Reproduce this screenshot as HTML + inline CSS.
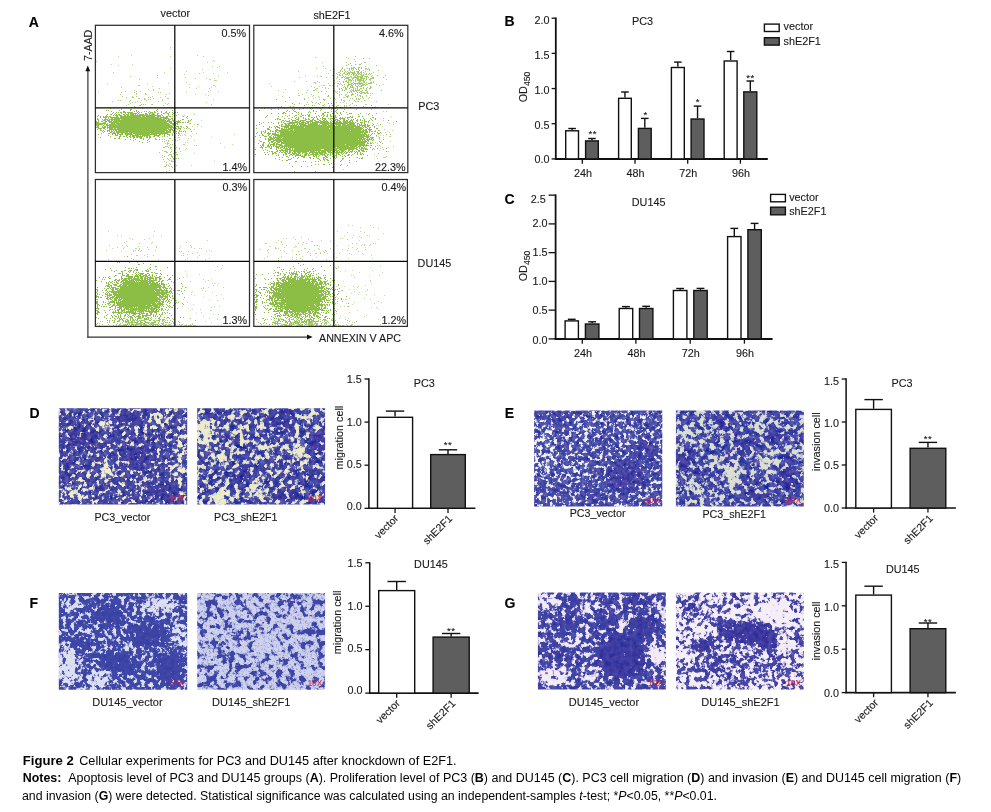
<!DOCTYPE html>
<html><head><meta charset="utf-8"><title>Figure 2</title>
<style>
html,body{margin:0;padding:0;background:#fff;}
body{width:991px;height:812px;overflow:hidden;font-family:"Liberation Sans", sans-serif;}
svg{display:block;font-family:"Liberation Sans", sans-serif;}
</style></head><body>
<svg width="991" height="812" viewBox="0 0 991 812">
<defs>
<filter id="f_d1" filterUnits="userSpaceOnUse" x="46.8" y="396.3" width="152.4" height="120.2" color-interpolation-filters="sRGB">
<feGaussianBlur in="SourceGraphic" stdDeviation="3.2" result="m"/>
<feTurbulence type="fractalNoise" baseFrequency="0.23" numOctaves="3" seed="4"/>
<feColorMatrix type="matrix" values="1 0 0 0 0 0 1 0 0 0 0 0 1 0 0 0 0 0 0 1" result="n"/>
<feComposite in="n" in2="m" operator="arithmetic" k1="0" k2="1" k3="0.62" k4="-0.31" result="s"/>
<feColorMatrix in="s" type="matrix" values="0 0 0 0 0.557 0 0 0 0 0.498 0 0 0 0 0.753 4.50 0 0 0 -1.319" result="mid"/>
<feColorMatrix in="s" type="matrix" values="0 -0.34 0.3 0 0.271 0 -0.34 0.075 0 0.399 0 -0.187 0.060 0 0.699 10.0 0 0 0 -3.680" result="fg"/>
<feFlood flood-color="#f1eecb" result="bg"/>
<feMerge result="mm"><feMergeNode in="bg"/><feMergeNode in="mid"/><feMergeNode in="fg"/></feMerge>
<feGaussianBlur in="mm" stdDeviation="0.38"/>
</filter>
<clipPath id="c_d1"><rect x="58.8" y="408.3" width="128.4" height="96.2"/></clipPath>
<filter id="f_d2" filterUnits="userSpaceOnUse" x="185.2" y="396.3" width="151.9" height="120.2" color-interpolation-filters="sRGB">
<feGaussianBlur in="SourceGraphic" stdDeviation="3.2" result="m"/>
<feTurbulence type="fractalNoise" baseFrequency="0.2" numOctaves="3" seed="9"/>
<feColorMatrix type="matrix" values="1 0 0 0 0 0 1 0 0 0 0 0 1 0 0 0 0 0 0 1" result="n"/>
<feComposite in="n" in2="m" operator="arithmetic" k1="0" k2="1" k3="0.62" k4="-0.31" result="s"/>
<feColorMatrix in="s" type="matrix" values="0 0 0 0 0.604 0 0 0 0 0.596 0 0 0 0 0.800 4.50 0 0 0 -1.485" result="mid"/>
<feColorMatrix in="s" type="matrix" values="0 -0.34 0.3 0 0.263 0 -0.34 0.075 0 0.395 0 -0.187 0.060 0 0.707 10.0 0 0 0 -4.050" result="fg"/>
<feFlood flood-color="#eceac7" result="bg"/>
<feMerge result="mm"><feMergeNode in="bg"/><feMergeNode in="mid"/><feMergeNode in="fg"/></feMerge>
<feGaussianBlur in="mm" stdDeviation="0.38"/>
</filter>
<clipPath id="c_d2"><rect x="197.2" y="408.3" width="127.9" height="96.2"/></clipPath>
<filter id="f_e1" filterUnits="userSpaceOnUse" x="522.1" y="398.4" width="152.2" height="120.1" color-interpolation-filters="sRGB">
<feGaussianBlur in="SourceGraphic" stdDeviation="3.2" result="m"/>
<feTurbulence type="fractalNoise" baseFrequency="0.26" numOctaves="3" seed="14"/>
<feColorMatrix type="matrix" values="1 0 0 0 0 0 1 0 0 0 0 0 1 0 0 0 0 0 0 1" result="n"/>
<feComposite in="n" in2="m" operator="arithmetic" k1="0" k2="1" k3="0.62" k4="-0.31" result="s"/>
<feColorMatrix in="s" type="matrix" values="0 0 0 0 0.549 0 0 0 0 0.518 0 0 0 0 0.769 4.50 0 0 0 -1.305" result="mid"/>
<feColorMatrix in="s" type="matrix" values="0 -0.34 0.3 0 0.291 0 -0.34 0.075 0 0.427 0 -0.187 0.060 0 0.722 10.0 0 0 0 -3.650" result="fg"/>
<feFlood flood-color="#f6f4ee" result="bg"/>
<feMerge result="mm"><feMergeNode in="bg"/><feMergeNode in="mid"/><feMergeNode in="fg"/></feMerge>
<feGaussianBlur in="mm" stdDeviation="0.38"/>
</filter>
<clipPath id="c_e1"><rect x="534.1" y="410.4" width="128.2" height="96.1"/></clipPath>
<filter id="f_e2" filterUnits="userSpaceOnUse" x="663.9" y="398.4" width="151.9" height="120.1" color-interpolation-filters="sRGB">
<feGaussianBlur in="SourceGraphic" stdDeviation="3.2" result="m"/>
<feTurbulence type="fractalNoise" baseFrequency="0.2" numOctaves="3" seed="21"/>
<feColorMatrix type="matrix" values="1 0 0 0 0 0 1 0 0 0 0 0 1 0 0 0 0 0 0 1" result="n"/>
<feComposite in="n" in2="m" operator="arithmetic" k1="0" k2="1" k3="0.62" k4="-0.31" result="s"/>
<feColorMatrix in="s" type="matrix" values="0 0 0 0 0.561 0 0 0 0 0.573 0 0 0 0 0.769 4.50 0 0 0 -1.530" result="mid"/>
<feColorMatrix in="s" type="matrix" values="0 -0.34 0.3 0 0.263 0 -0.34 0.075 0 0.395 0 -0.187 0.060 0 0.711 10.0 0 0 0 -4.150" result="fg"/>
<feFlood flood-color="#dcdfd0" result="bg"/>
<feMerge result="mm"><feMergeNode in="bg"/><feMergeNode in="mid"/><feMergeNode in="fg"/></feMerge>
<feGaussianBlur in="mm" stdDeviation="0.38"/>
</filter>
<clipPath id="c_e2"><rect x="675.9" y="410.4" width="127.9" height="96.1"/></clipPath>
<filter id="f_f1" filterUnits="userSpaceOnUse" x="46.8" y="581.1" width="152.4" height="120.7" color-interpolation-filters="sRGB">
<feGaussianBlur in="SourceGraphic" stdDeviation="3.2" result="m"/>
<feTurbulence type="fractalNoise" baseFrequency="0.24" numOctaves="3" seed="31"/>
<feColorMatrix type="matrix" values="1 0 0 0 0 0 1 0 0 0 0 0 1 0 0 0 0 0 0 1" result="n"/>
<feComposite in="n" in2="m" operator="arithmetic" k1="0" k2="1" k3="0.9" k4="-0.45" result="s"/>
<feColorMatrix in="s" type="matrix" values="0 0 0 0 0.553 0 0 0 0 0.576 0 0 0 0 0.812 4.50 0 0 0 -1.417" result="mid"/>
<feColorMatrix in="s" type="matrix" values="0 -0.08 0.05 0 0.258 0 -0.08 0.013 0 0.312 0 -0.044 0.010 0 0.672 10.0 0 0 0 -3.900" result="fg"/>
<feFlood flood-color="#dde0f1" result="bg"/>
<feMerge result="mm"><feMergeNode in="bg"/><feMergeNode in="mid"/><feMergeNode in="fg"/></feMerge>
<feGaussianBlur in="mm" stdDeviation="0.38"/>
</filter>
<clipPath id="c_f1"><rect x="58.8" y="593.1" width="128.4" height="96.7"/></clipPath>
<filter id="f_f2" filterUnits="userSpaceOnUse" x="185.2" y="581.1" width="151.9" height="120.7" color-interpolation-filters="sRGB">
<feGaussianBlur in="SourceGraphic" stdDeviation="3.2" result="m"/>
<feTurbulence type="fractalNoise" baseFrequency="0.17" numOctaves="3" seed="37"/>
<feColorMatrix type="matrix" values="1 0 0 0 0 0 1 0 0 0 0 0 1 0 0 0 0 0 0 1" result="n"/>
<feComposite in="n" in2="m" operator="arithmetic" k1="0" k2="1" k3="0.7" k4="-0.35" result="s"/>
<feColorMatrix in="s" type="matrix" values="0 0 0 0 0.604 0 0 0 0 0.627 0 0 0 0 0.839 4.50 0 0 0 -2.025" result="mid"/>
<feColorMatrix in="s" type="matrix" values="0 -0.06 0.04 0 0.249 0 -0.06 0.010 0 0.296 0 -0.033 0.008 0 0.667 10.0 0 0 0 -5.250" result="fg"/>
<feFlood flood-color="#cdd1ec" result="bg"/>
<feTurbulence type="fractalNoise" baseFrequency="0.55" numOctaves="2" seed="137"/>
<feColorMatrix type="matrix" values="0 0 0 0 0.639 0 0 0 0 0.663 0 0 0 0 0.855 9 0 0 0 -5.175" result="sp"/>
<feMerge result="mm"><feMergeNode in="bg"/><feMergeNode in="sp"/><feMergeNode in="mid"/><feMergeNode in="fg"/></feMerge>
<feGaussianBlur in="mm" stdDeviation="0.38"/>
</filter>
<clipPath id="c_f2"><rect x="197.2" y="593.1" width="127.9" height="96.7"/></clipPath>
<filter id="f_g1" filterUnits="userSpaceOnUse" x="525.9" y="580.4" width="151.9" height="121.1" color-interpolation-filters="sRGB">
<feGaussianBlur in="SourceGraphic" stdDeviation="3.2" result="m"/>
<feTurbulence type="fractalNoise" baseFrequency="0.21" numOctaves="3" seed="43"/>
<feColorMatrix type="matrix" values="1 0 0 0 0 0 1 0 0 0 0 0 1 0 0 0 0 0 0 1" result="n"/>
<feComposite in="n" in2="m" operator="arithmetic" k1="0" k2="1" k3="0.8" k4="-0.4" result="s"/>
<feColorMatrix in="s" type="matrix" values="0 0 0 0 0.553 0 0 0 0 0.502 0 0 0 0 0.761 4.50 0 0 0 -1.427" result="mid"/>
<feColorMatrix in="s" type="matrix" values="0 -0.2 0.15 0 0.272 0 -0.2 0.037 0 0.348 0 -0.110 0.030 0 0.687 10.0 0 0 0 -3.920" result="fg"/>
<feFlood flood-color="#f2eaf4" result="bg"/>
<feMerge result="mm"><feMergeNode in="bg"/><feMergeNode in="mid"/><feMergeNode in="fg"/></feMerge>
<feGaussianBlur in="mm" stdDeviation="0.38"/>
</filter>
<clipPath id="c_g1"><rect x="537.9" y="592.4" width="127.9" height="97.1"/></clipPath>
<filter id="f_g2" filterUnits="userSpaceOnUse" x="663.9" y="580.4" width="151.9" height="121.1" color-interpolation-filters="sRGB">
<feGaussianBlur in="SourceGraphic" stdDeviation="3.2" result="m"/>
<feTurbulence type="fractalNoise" baseFrequency="0.22" numOctaves="3" seed="49"/>
<feColorMatrix type="matrix" values="1 0 0 0 0 0 1 0 0 0 0 0 1 0 0 0 0 0 0 1" result="n"/>
<feComposite in="n" in2="m" operator="arithmetic" k1="0" k2="1" k3="1.0" k4="-0.5" result="s"/>
<feColorMatrix in="s" type="matrix" values="0 0 0 0 0.604 0 0 0 0 0.565 0 0 0 0 0.800 4.50 0 0 0 -2.002" result="mid"/>
<feColorMatrix in="s" type="matrix" values="0 -0.2 0.15 0 0.284 0 -0.2 0.037 0 0.356 0 -0.110 0.030 0 0.691 10.0 0 0 0 -5.200" result="fg"/>
<feFlood flood-color="#f5eef6" result="bg"/>
<feMerge result="mm"><feMergeNode in="bg"/><feMergeNode in="mid"/><feMergeNode in="fg"/></feMerge>
<feGaussianBlur in="mm" stdDeviation="0.38"/>
</filter>
<clipPath id="c_g2"><rect x="675.9" y="592.4" width="127.9" height="97.1"/></clipPath>
</defs>
<rect width="991" height="812" fill="#ffffff"/>
<g opacity="0.999">
<text x="28.8" y="27.2" font-size="14" text-anchor="start" font-weight="bold" fill="#000" stroke="#000" stroke-width="0.12" >A</text>
<text x="175.3" y="17.3" font-size="10.8" text-anchor="middle" font-weight="normal" fill="#1c191a" stroke="#1c191a" stroke-width="0.12" >vector</text>
<text x="332" y="19.0" font-size="10.8" text-anchor="middle" font-weight="normal" fill="#1c191a" stroke="#1c191a" stroke-width="0.12" >shE2F1</text>
<text x="418.2" y="110.2" font-size="10.8" text-anchor="start" font-weight="normal" fill="#1c191a" stroke="#1c191a" stroke-width="0.12" >PC3</text>
<text x="417.6" y="267.2" font-size="10.8" text-anchor="start" font-weight="normal" fill="#1c191a" stroke="#1c191a" stroke-width="0.12" >DU145</text>
<text x="319" y="342.2" font-size="10.8" text-anchor="start" font-weight="normal" fill="#1c191a" stroke="#1c191a" stroke-width="0.12" textLength="82" lengthAdjust="spacingAndGlyphs">ANNEXIN V APC</text>
<text transform="translate(91.5,61.0) rotate(-90)" font-size="10.6" fill="#1c191a" stroke="#1c191a" stroke-width="0.12">7-AAD</text>
<line x1="87.9" y1="70" x2="87.9" y2="337.7" stroke="#333" stroke-width="1.2"/>
<line x1="87.3" y1="337.15" x2="309" y2="337.15" stroke="#333" stroke-width="1.2"/>
<path d="M87.8 65.6 L85.4 71.2 L90.2 71.2 Z" fill="#111"/>
<path d="M312.6 337 L307 334.6 L307 339.4 Z" fill="#111"/>
<clipPath id="cp0"><rect x="95.4" y="25.3" width="154.1" height="147.29999999999998"/></clipPath><g clip-path="url(#cp0)">
<path d="M163.3 124.7 L161.4 125.6 L165.2 127.0 L158.7 127.2 L160.6 128.7 L157.0 129.2 L152.5 129.1 L151.8 130.6 L146.9 129.7 L144.5 130.9 L140.9 129.9 L137.7 129.9 L133.7 130.4 L128.5 130.9 L128.9 128.7 L125.8 128.3 L120.5 128.1 L115.7 127.4 L117.4 126.0 L118.3 124.9 L112.4 123.7 L121.6 123.0 L115.0 121.4 L121.5 121.1 L124.4 120.5 L126.7 119.9 L128.1 119.0 L128.9 117.2 L134.6 118.5 L137.3 117.3 L141.1 117.1 L144.7 118.0 L148.7 117.9 L150.1 119.5 L152.7 120.0 L156.1 120.4 L161.9 120.4 L161.8 121.7 L162.2 122.8 L165.5 123.7Z" fill="#8cbe45"/>
<path d="M134 106h1M135 107h1M110 108h1M142 108h1M121 109h1M130 109h2M157 109h1M106 110h1M108 110h1M119 110h1M130 110h1M136 110h1M156 110h1M172 110h1M111 111h1M123 111h2M134 111h1M136 111h1M138 111h1M144 111h1M146 111h1M149 111h1M154 111h1M157 111h1M161 111h1M166 111h1M113 112h1M116 112h1M118 112h1M120 112h2M123 112h3M127 112h6M137 112h1M139 112h1M141 112h1M148 112h1M150 112h3M154 112h2M161 112h1M165 112h2M169 112h1M172 112h1M175 112h1M177 112h1M112 113h1M115 113h1M121 113h1M125 113h1M128 113h1M130 113h7M138 113h1M145 113h2M149 113h2M152 113h2M157 113h2M163 113h2M167 113h2M173 113h1M107 114h1M110 114h2M114 114h1M116 114h1M118 114h2M123 114h2M126 114h3M130 114h4M135 114h1M137 114h1M139 114h5M145 114h3M149 114h1M151 114h4M157 114h1M161 114h1M168 114h1M172 114h1M98 115h1M106 115h1M113 115h1M115 115h3M119 115h3M124 115h2M127 115h2M130 115h31M162 115h1M168 115h1M174 115h1M176 115h1M97 116h1M100 116h1M103 116h1M105 116h3M109 116h2M116 116h2M120 116h21M142 116h3M146 116h9M157 116h4M163 116h1M166 116h2M169 116h2M172 116h1M183 116h1M187 116h1M100 117h1M103 117h4M108 117h1M110 117h9M120 117h39M160 117h8M186 117h1M97 118h1M105 118h1M108 118h1M111 118h2M114 118h48M163 118h6M171 118h2M98 119h1M102 119h1M104 119h4M109 119h11M121 119h44M166 119h1M168 119h3M172 119h1M174 119h1M182 119h2M191 119h1M98 120h1M103 120h3M107 120h3M111 120h2M114 120h52M167 120h3M172 120h2M178 120h1M180 120h1M188 120h1M190 120h1M98 121h1M101 121h2M105 121h2M108 121h4M113 121h59M173 121h1M176 121h4M188 121h1M97 122h1M103 122h3M109 122h10M120 122h47M169 122h3M174 122h2M177 122h4M182 122h2M185 122h1M187 122h1M98 123h8M107 123h1M111 123h4M116 123h53M170 123h8M190 123h1M98 124h1M100 124h3M104 124h1M106 124h2M109 124h7M117 124h2M120 124h50M172 124h4M177 124h1M197 124h1M103 125h1M106 125h66M173 125h3M102 126h1M104 126h2M107 126h1M109 126h64M174 126h1M176 126h3M180 126h2M186 126h1M98 127h1M102 127h4M107 127h67M175 127h1M178 127h1M187 127h1M98 128h4M103 128h2M107 128h1M109 128h4M114 128h2M117 128h52M170 128h2M173 128h1M175 128h2M178 128h3M186 128h1M100 129h1M105 129h1M109 129h58M168 129h5M174 129h1M177 129h1M180 129h1M190 129h1M100 130h2M103 130h1M107 130h3M111 130h1M113 130h1M115 130h2M118 130h50M169 130h2M172 130h3M179 130h1M102 131h1M104 131h1M107 131h1M109 131h1M111 131h2M114 131h1M116 131h49M166 131h5M173 131h1M176 131h1M179 131h1M181 131h1M183 131h1M185 131h1M191 131h1M103 132h1M110 132h2M113 132h2M116 132h12M129 132h42M173 132h1M178 132h1M101 133h1M108 133h2M112 133h4M117 133h2M121 133h2M125 133h7M133 133h17M151 133h17M172 133h1M176 133h1M178 133h1M98 134h1M112 134h1M115 134h1M117 134h1M119 134h4M125 134h8M135 134h22M159 134h2M164 134h1M167 134h3M172 134h1M108 135h1M115 135h3M120 135h1M126 135h2M130 135h1M132 135h7M140 135h1M142 135h8M154 135h6M164 135h1M169 135h1M172 135h1M174 135h1M178 135h1M110 136h1M119 136h2M123 136h2M126 136h1M129 136h2M132 136h3M136 136h7M144 136h1M146 136h2M149 136h2M153 136h2M158 136h1M164 136h1M100 137h1M119 137h1M127 137h1M130 137h1M133 137h2M136 137h2M139 137h3M146 137h2M149 137h2M174 137h1M114 138h2M118 138h2M133 138h1M140 138h2M143 138h1M149 138h1M155 138h1M125 139h1M130 139h1M135 139h1M143 139h1M148 139h1M155 139h1M159 139h1M133 140h1M147 140h1M139 141h1M149 141h1M142 142h1M147 142h1" stroke="#8cbe45" stroke-width="1" fill="none" opacity="1.0" shape-rendering="crispEdges" transform="translate(0,0.5)"/>
<path d="M97 119h1M95 121h2M95 122h4M95 123h4M95 124h3M99 124h1M96 125h3M97 126h2M96 127h2M98 128h1M97 129h1" stroke="#8cbe45" stroke-width="1" fill="none" opacity="1.0" shape-rendering="crispEdges" transform="translate(0,0.5)"/>
<path d="M160 121h1M161 125h1M168 129h1M163 132h1M169 132h1M165 133h1M162 134h1M157 136h1M162 136h1M167 136h1M174 136h1M159 137h1M169 138h2M156 139h1M162 139h1M164 139h1M175 139h1M166 140h1M168 140h1M172 140h1M175 140h1M162 141h1M164 141h1M168 141h1M167 142h1M165 143h1M167 143h2M174 143h1M167 144h1M170 144h1M172 144h1M169 145h1M175 145h1M165 146h3M174 146h1M163 147h2M168 147h1M170 147h2M176 147h1M170 148h1M175 148h1M179 148h1M171 149h1M162 150h1M174 150h1M164 151h3M171 151h1M180 151h1M159 152h1M166 152h2M170 152h1M174 152h3M173 153h1M169 154h3M176 154h2M162 155h1M168 155h1M171 155h1M164 156h1M171 156h2M162 157h1M172 157h1M167 158h1M170 158h1M173 158h2M176 158h1M178 158h1M163 159h1M168 159h1M173 159h1M169 160h1M171 160h1M164 161h1M171 161h3M166 162h1M169 163h1M166 164h1M170 164h1M166 165h1M168 165h1M176 165h1M164 166h2M169 166h1M171 166h1M172 167h1M174 169h1M169 170h1M166 171h1" stroke="#8cbe45" stroke-width="1" fill="none" opacity="0.75" shape-rendering="crispEdges" transform="translate(0,0.5)"/>
<path d="M113 72h1M157 75h1M130 76h1M139 79h1M138 85h2M121 87h1M159 88h1M148 89h1M153 89h1M134 90h1M153 90h1M125 91h1M136 91h1M140 91h1M121 92h1M134 92h1M158 92h1M160 92h1M136 93h1M145 93h1M169 93h1M120 94h1M136 94h1M145 94h2M166 94h1M122 96h1M132 96h1M136 96h1M152 96h1M165 96h1M126 97h1M132 97h2M148 97h1M150 97h1M160 97h1M138 98h2M144 98h1M153 98h1M167 98h2M144 99h2M148 99h1M150 99h1M162 99h1M118 100h1M120 100h1M130 100h1M141 100h1M146 100h1M162 100h1M112 101h1M129 101h1M137 101h1M158 101h1M132 102h1M135 102h1M140 102h1M130 103h1M165 103h1M168 103h1M128 104h1M141 104h1M143 104h1M145 104h1M151 104h2M167 104h1M126 105h1M139 105h2M163 105h1" stroke="#8cbe45" stroke-width="1" fill="none" opacity="0.7" shape-rendering="crispEdges" transform="translate(0,0.5)"/>
<path d="M170 47h1M170 49h1M131 55h1M118 56h1M170 56h1M96 61h1M111 64h1M132 64h1M118 65h1M170 68h1M164 72h1M157 77h1M107 83h1M168 83h1M147 84h1M152 86h1M98 91h1" stroke="#8cbe45" stroke-width="1" fill="none" opacity="0.6" shape-rendering="crispEdges" transform="translate(0,0.5)"/>
<path d="M197 55h1M203 56h1M213 60h1M214 61h1M207 62h1M212 66h1M219 66h1M217 67h1M202 69h1M186 71h1M203 72h1M227 72h1M199 73h1M213 73h1M184 74h1M218 76h1M185 77h1M195 78h1M206 78h1M214 78h1M209 79h2M214 80h3M186 82h1M189 84h1M213 85h2M198 86h1M215 86h1M189 87h1M211 87h1M196 88h1M209 88h1M210 90h1M208 91h1M218 91h1M186 92h1M195 94h1M205 94h1M208 95h1M213 99h1M206 102h1M211 104h1" stroke="#8cbe45" stroke-width="1" fill="none" opacity="0.6" shape-rendering="crispEdges" transform="translate(0,0.5)"/>
<path d="M193 113h1M178 114h1M194 114h1M182 115h1M184 115h1M187 118h1M180 120h1M178 121h1M189 121h1M188 122h1M189 123h1M198 124h1M187 126h1M192 126h1M181 127h1M183 127h1M184 128h1M188 128h2M194 129h1M184 130h1M180 131h1M185 132h1M179 133h1M181 133h1M196 133h1M179 134h1M184 134h1M180 135h1M182 135h1M185 135h1M190 135h1M191 136h1M178 137h2M188 138h1M179 139h1M177 140h1M187 140h1M194 140h1M185 142h1M187 142h1M183 144h2M194 145h1M196 145h1M186 148h1M179 149h1M185 149h1M194 153h1" stroke="#8cbe45" stroke-width="1" fill="none" opacity="0.6" shape-rendering="crispEdges" transform="translate(0,0.5)"/>
<path d="M201 120h1M194 124h1M197 126h1M201 126h1M234 134h1M211 137h1M220 143h1M232 144h1M224 147h1M214 161h1M237 164h1M191 165h1" stroke="#8cbe45" stroke-width="1" fill="none" opacity="0.5" shape-rendering="crispEdges" transform="translate(0,0.5)"/>
</g>
<clipPath id="cp1"><rect x="253.8" y="25.3" width="154.0" height="147.29999999999998"/></clipPath><g clip-path="url(#cp1)">
<path d="M330.4 136.8 L329.6 138.5 L330.1 140.3 L333.5 142.9 L327.4 143.6 L324.3 144.7 L319.6 144.7 L318.7 147.0 L317.1 150.0 L312.0 148.4 L308.4 150.4 L304.0 150.8 L299.7 150.6 L296.4 149.1 L294.2 147.2 L292.6 145.4 L285.4 146.1 L284.2 144.1 L283.1 142.1 L288.6 139.6 L282.6 138.3 L282.4 136.3 L288.4 135.1 L288.0 133.2 L288.7 131.4 L292.5 130.6 L295.9 130.0 L298.4 129.0 L300.4 127.0 L304.7 128.4 L307.6 124.7 L311.3 126.4 L314.5 127.3 L317.5 128.0 L320.8 128.5 L325.4 128.5 L328.9 129.5 L328.6 131.8 L332.7 132.9 L332.3 134.9Z" fill="#8cbe45"/>
<path d="M328 95h1M289 97h1M276 99h1M304 99h1M323 99h1M285 101h1M312 102h1M320 102h1M292 103h1M299 103h1M318 103h1M328 103h1M331 103h1M294 104h1M304 105h1M312 105h1M314 105h1M323 105h1M332 105h1M344 105h1M356 105h1M371 105h1M281 106h1M290 106h1M293 106h1M336 106h1M363 106h1M307 107h1M316 107h1M322 107h1M328 107h1M333 107h1M337 107h1M340 107h1M372 107h1M264 108h1M303 108h1M310 108h1M320 108h1M271 109h1M278 109h1M292 109h1M294 109h1M299 109h1M321 109h1M331 109h1M337 109h1M344 109h1M356 109h1M259 110h1M287 110h1M293 110h1M313 110h1M320 110h1M336 110h1M286 111h1M289 111h1M294 111h2M309 111h1M313 111h1M316 111h1M331 111h1M333 111h1M335 111h1M343 111h1M283 112h2M296 112h1M298 112h1M308 112h1M310 112h1M324 112h2M327 112h2M336 112h1M340 112h1M346 112h1M271 113h1M278 113h1M282 113h2M285 113h1M292 113h1M301 113h1M315 113h1M322 113h2M332 113h1M337 113h1M340 113h1M349 113h3M360 113h1M369 113h1M376 113h1M298 114h1M301 114h1M307 114h1M309 114h1M322 114h2M327 114h1M330 114h1M341 114h1M347 114h1M358 114h1M368 114h1M267 115h1M289 115h1M295 115h2M302 115h2M305 115h1M308 115h2M318 115h1M321 115h1M324 115h1M327 115h1M330 115h1M335 115h1M339 115h1M372 115h1M266 116h1M278 116h1M282 116h1M287 116h1M294 116h1M300 116h2M308 116h2M316 116h1M319 116h1M323 116h1M326 116h2M330 116h2M333 116h1M335 116h1M350 116h1M352 116h1M358 116h2M362 116h1M265 117h1M292 117h1M296 117h1M298 117h1M303 117h1M311 117h2M314 117h1M316 117h1M322 117h1M335 117h2M340 117h1M342 117h1M345 117h1M347 117h3M351 117h2M372 117h2M277 118h2M284 118h1M288 118h1M295 118h1M298 118h1M303 118h1M305 118h1M308 118h1M313 118h1M317 118h1M320 118h1M322 118h4M328 118h1M330 118h5M339 118h6M347 118h1M355 118h1M363 118h1M370 118h1M375 118h1M275 119h1M277 119h1M279 119h2M291 119h1M296 119h3M305 119h2M308 119h2M312 119h2M317 119h2M322 119h1M324 119h2M330 119h1M333 119h1M335 119h3M340 119h1M343 119h2M348 119h1M351 119h1M353 119h1M357 119h1M360 119h1M364 119h1M371 119h1M375 119h1M282 120h2M285 120h1M289 120h1M292 120h4M298 120h1M300 120h6M310 120h3M314 120h2M319 120h2M323 120h2M326 120h1M331 120h1M333 120h3M337 120h3M343 120h2M346 120h2M350 120h3M356 120h2M360 120h1M362 120h1M364 120h1M369 120h1M372 120h1M388 120h1M281 121h1M284 121h1M286 121h4M292 121h1M295 121h3M299 121h2M302 121h2M306 121h7M315 121h4M320 121h8M330 121h1M332 121h1M334 121h1M336 121h2M339 121h2M343 121h5M349 121h2M352 121h1M357 121h1M364 121h3M368 121h1M396 121h1M259 122h1M263 122h1M268 122h1M271 122h1M278 122h1M281 122h1M283 122h1M289 122h11M301 122h5M307 122h2M310 122h1M312 122h17M330 122h2M333 122h9M343 122h11M355 122h1M360 122h3M364 122h1M368 122h1M261 123h1M273 123h1M278 123h1M284 123h2M287 123h8M297 123h1M299 123h5M305 123h4M310 123h8M320 123h28M349 123h6M357 123h2M361 123h1M364 123h1M259 124h1M281 124h2M285 124h2M288 124h2M292 124h1M294 124h1M296 124h2M299 124h7M308 124h10M319 124h1M322 124h7M330 124h4M335 124h6M342 124h4M347 124h8M357 124h1M359 124h1M361 124h1M364 124h2M367 124h1M373 124h1M380 124h1M256 125h1M279 125h1M281 125h1M285 125h12M298 125h1M300 125h27M328 125h7M336 125h1M338 125h3M342 125h14M357 125h1M359 125h7M367 125h3M372 125h1M263 126h1M269 126h1M274 126h1M276 126h2M281 126h8M290 126h70M362 126h1M364 126h2M367 126h2M374 126h1M269 127h1M271 127h1M275 127h1M277 127h3M284 127h5M290 127h14M305 127h49M355 127h7M363 127h1M365 127h2M369 127h2M374 127h1M256 128h1M267 128h2M275 128h1M279 128h1M281 128h2M284 128h1M286 128h1M288 128h41M330 128h33M367 128h1M369 128h1M376 128h2M267 129h3M276 129h2M281 129h12M294 129h68M363 129h1M365 129h2M368 129h4M265 130h1M270 130h1M275 130h14M290 130h3M294 130h56M351 130h10M362 130h5M369 130h2M378 130h1M261 131h1M263 131h1M265 131h1M270 131h1M272 131h2M275 131h2M279 131h85M365 131h3M369 131h1M371 131h2M374 131h2M257 132h1M261 132h1M264 132h2M268 132h1M275 132h1M277 132h2M280 132h88M369 132h1M377 132h1M380 132h1M256 133h1M261 133h1M267 133h4M272 133h4M280 133h81M362 133h1M364 133h2M372 133h1M374 133h1M378 133h2M262 134h1M268 134h2M272 134h7M280 134h87M368 134h1M371 134h1M386 134h1M259 135h1M262 135h2M268 135h1M271 135h1M274 135h91M366 135h3M370 135h1M376 135h1M255 136h1M264 136h3M269 136h2M273 136h1M275 136h1M277 136h93M260 137h1M269 137h3M273 137h9M283 137h81M366 137h3M370 137h4M379 137h1M265 138h1M268 138h1M270 138h5M276 138h5M282 138h80M363 138h3M367 138h1M369 138h1M371 138h2M265 139h1M268 139h6M275 139h83M359 139h6M366 139h6M373 139h1M383 139h1M259 140h1M268 140h3M273 140h88M362 140h1M364 140h2M367 140h2M372 140h1M260 141h2M268 141h1M271 141h3M276 141h6M283 141h84M368 141h1M379 141h1M263 142h2M269 142h1M271 142h2M274 142h2M277 142h3M281 142h85M367 142h1M370 142h1M380 142h1M258 143h1M263 143h1M269 143h1M273 143h2M276 143h2M281 143h84M367 143h2M370 143h2M382 143h1M262 144h2M268 144h1M270 144h5M276 144h6M286 144h59M346 144h19M366 144h1M260 145h1M262 145h2M267 145h2M270 145h1M273 145h2M276 145h1M279 145h4M284 145h74M359 145h10M370 145h2M261 146h1M263 146h1M267 146h3M271 146h1M273 146h1M275 146h5M281 146h68M350 146h7M358 146h3M363 146h1M375 146h1M260 147h3M265 147h2M269 147h1M271 147h1M276 147h3M280 147h3M284 147h1M286 147h1M288 147h48M337 147h18M356 147h2M359 147h1M361 147h2M364 147h1M370 147h1M262 148h1M270 148h2M276 148h1M278 148h1M280 148h1M283 148h5M289 148h2M292 148h1M294 148h39M335 148h22M359 148h1M361 148h6M373 148h1M377 148h1M386 148h1M255 149h1M265 149h1M276 149h1M281 149h2M285 149h6M292 149h1M294 149h7M302 149h19M324 149h13M339 149h8M348 149h6M356 149h2M360 149h2M363 149h1M365 149h3M372 149h1M263 150h1M267 150h1M277 150h1M279 150h9M289 150h44M334 150h5M340 150h5M348 150h2M352 150h1M358 150h2M361 150h3M269 151h1M271 151h2M276 151h2M280 151h1M283 151h1M285 151h3M289 151h2M293 151h16M310 151h5M316 151h1M318 151h2M321 151h5M327 151h4M332 151h3M336 151h2M339 151h1M341 151h3M345 151h1M348 151h1M350 151h3M354 151h1M356 151h1M358 151h2M362 151h3M366 151h1M386 151h1M264 152h1M267 152h1M272 152h1M274 152h2M279 152h1M281 152h2M284 152h2M287 152h1M289 152h2M292 152h1M294 152h2M297 152h4M302 152h5M309 152h17M328 152h6M335 152h8M344 152h1M346 152h2M349 152h1M351 152h1M355 152h1M357 152h1M360 152h1M272 153h2M275 153h2M285 153h2M288 153h2M292 153h5M298 153h2M302 153h1M305 153h3M309 153h1M312 153h2M315 153h3M319 153h4M324 153h3M330 153h1M332 153h2M336 153h3M341 153h1M343 153h1M345 153h2M354 153h1M357 153h1M360 153h1M362 153h1M378 153h1M255 154h1M265 154h1M268 154h1M272 154h1M278 154h1M283 154h1M285 154h2M290 154h2M293 154h2M296 154h3M300 154h1M304 154h3M308 154h1M310 154h9M320 154h5M327 154h2M330 154h1M332 154h1M336 154h1M338 154h2M342 154h1M348 154h2M352 154h1M357 154h1M360 154h2M363 154h1M276 155h1M278 155h1M283 155h1M289 155h1M292 155h1M295 155h6M302 155h1M304 155h3M308 155h2M313 155h1M315 155h2M319 155h1M322 155h1M324 155h2M327 155h1M330 155h1M335 155h2M340 155h1M344 155h1M347 155h2M351 155h1M367 155h1M286 156h2M295 156h1M301 156h4M313 156h2M316 156h1M318 156h1M325 156h2M332 156h1M334 156h1M336 156h1M342 156h1M345 156h1M279 157h1M282 157h1M288 157h1M293 157h1M298 157h1M303 157h2M309 157h2M316 157h1M323 157h2M326 157h2M334 157h1M336 157h1M349 157h1M357 157h1M362 157h1M275 158h1M291 158h1M297 158h1M310 158h1M313 158h1M317 158h2M323 158h1M325 158h1M330 158h1M335 158h1M342 158h2M359 158h1M361 158h2M279 159h1M288 159h3M319 159h1M323 159h2M326 159h2M342 159h1M282 160h1M286 160h2M320 160h1M324 160h1M327 160h2M341 160h1M349 160h1M295 161h2M303 161h1M305 161h1M315 161h1M318 161h1M340 161h1M356 161h1M311 162h1M328 162h1M349 162h1M289 163h1M331 163h1M315 164h1M318 164h1M323 164h2M329 164h1M341 164h1M311 165h1M340 165h1M347 165h1M292 166h1M301 166h1M307 166h1M332 167h1M294 171h1M315 171h1" stroke="#8cbe45" stroke-width="1" fill="none" opacity="1.0" shape-rendering="crispEdges" transform="translate(0,0.5)"/>
<path d="M355 56h1M346 57h1M348 58h1M363 58h1M369 58h1M354 59h1M355 61h1M346 62h1M364 62h2M350 63h1M361 63h1M348 64h1M355 64h1M359 64h2M346 65h1M351 65h1M376 65h1M365 66h1M342 67h1M351 67h1M353 67h2M358 67h2M361 67h1M342 68h1M347 68h1M349 68h1M351 68h3M355 68h1M358 68h1M361 68h1M365 68h2M368 68h1M341 69h1M344 69h1M349 69h1M351 69h1M353 69h1M356 69h1M358 69h1M365 69h1M367 69h1M369 69h1M340 70h1M344 70h1M349 70h1M352 70h1M359 70h1M363 70h1M369 70h1M378 70h1M340 71h1M342 71h1M345 71h1M347 71h1M350 71h1M354 71h1M356 71h3M361 71h1M365 71h1M338 72h2M344 72h1M348 72h1M350 72h5M357 72h2M360 72h2M363 72h1M373 72h1M336 73h1M340 73h1M344 73h1M347 73h3M352 73h4M357 73h3M361 73h1M364 73h1M366 73h1M369 73h1M371 73h1M337 74h1M339 74h1M342 74h1M345 74h3M349 74h1M351 74h1M353 74h2M356 74h1M358 74h1M360 74h2M363 74h1M365 74h2M368 74h1M370 74h1M339 75h2M342 75h1M348 75h1M353 75h1M355 75h3M361 75h3M372 75h1M377 75h1M385 75h1M337 76h1M343 76h1M345 76h1M350 76h2M354 76h2M357 76h6M364 76h4M371 76h1M326 77h1M337 77h1M341 77h2M344 77h1M346 77h4M351 77h1M353 77h6M360 77h3M366 77h1M368 77h1M372 77h2M383 77h1M336 78h1M345 78h4M352 78h2M356 78h3M360 78h5M366 78h1M370 78h4M339 79h1M344 79h1M348 79h3M352 79h1M355 79h1M357 79h5M363 79h1M366 79h1M369 79h2M334 80h1M346 80h1M349 80h3M353 80h1M355 80h1M357 80h7M365 80h1M370 80h1M339 81h1M343 81h1M345 81h2M348 81h1M355 81h1M359 81h2M363 81h2M319 82h1M343 82h1M347 82h2M350 82h1M353 82h1M358 82h2M361 82h1M363 82h2M366 82h1M370 82h2M373 82h1M334 83h1M337 83h2M340 83h1M348 83h1M351 83h2M354 83h9M365 83h1M368 83h4M339 84h1M344 84h1M348 84h4M353 84h1M355 84h1M357 84h1M359 84h2M362 84h3M366 84h2M376 84h1M330 85h1M342 85h1M347 85h2M351 85h2M355 85h1M358 85h1M361 85h3M365 85h1M379 85h1M337 86h1M344 86h1M347 86h1M350 86h1M352 86h1M356 86h2M359 86h3M370 86h1M343 87h1M345 87h1M347 87h1M350 87h4M357 87h1M363 87h1M367 87h1M370 87h2M341 88h1M345 88h2M349 88h1M353 88h1M355 88h1M357 88h1M360 88h2M363 88h1M366 88h1M369 88h2M339 89h1M346 89h1M351 89h1M353 89h1M355 89h1M357 89h1M359 89h1M366 89h1M342 90h1M344 90h1M352 90h2M355 90h5M362 90h1M365 90h2M381 90h1M333 91h1M350 91h2M353 91h2M356 91h1M360 91h2M367 91h1M347 92h1M349 92h1M351 92h1M357 92h1M359 92h1M361 92h4M366 92h2M352 93h1M355 93h1M360 93h2M364 93h2M367 93h1M370 93h1M372 93h1M339 94h1M351 94h3M357 94h1M345 95h1M348 95h1M351 95h1M359 95h2M366 95h1M328 96h1M346 96h2M355 96h1M360 96h1M362 96h1M347 97h1M362 97h1M369 97h1M352 98h1M356 98h1M341 99h1M358 99h2M343 100h1M354 100h1M355 101h1M358 101h1M352 103h1" stroke="#8cbe45" stroke-width="1" fill="none" opacity="0.8" shape-rendering="crispEdges" transform="translate(0,0.5)"/>
<path d="M315 57h1M355 64h1M323 66h1M316 68h1M325 68h1M334 69h1M330 70h1M298 71h1M346 72h1M349 72h1M328 73h1M343 73h1M305 75h1M332 75h1M317 76h1M320 76h2M299 77h1M348 80h1M294 81h1M306 81h1M317 81h1M337 81h1M351 81h1M314 82h2M315 83h1M328 83h1M333 83h1M360 83h1M341 84h1M383 84h1M321 85h1M323 85h2M329 85h1M332 85h1M337 85h1M348 85h1M311 86h1M319 86h1M314 87h1M322 87h1M325 87h1M316 88h2M325 88h1M328 88h1M339 88h1M285 89h1M315 89h1M342 89h1M345 89h1M278 90h1M298 90h1M307 90h1M313 90h2M316 90h1M334 90h1M344 90h1M350 90h1M326 91h1M335 91h1M337 91h1M339 91h1M306 92h1M318 92h1M333 92h1M336 92h1M339 92h1M298 93h1M325 93h1M337 93h1M361 93h1M368 93h1M302 94h1M311 94h1M341 94h1M345 94h2M352 94h1M299 95h1M313 95h1M328 95h1M339 95h1M357 95h1M370 95h1M282 96h1M318 96h1M327 96h1M347 96h2M366 96h1M308 97h1M315 97h1M319 97h1M334 97h1M339 97h1M344 97h1M304 98h1M313 98h1M330 98h1M334 98h1M350 98h1M358 98h1M360 98h1M363 98h1M368 98h1M319 99h1M324 99h2M335 99h1M356 99h1M324 100h1M341 100h1M344 100h1M349 100h1M354 100h1M364 100h1M311 101h1M344 101h1M357 101h1M376 101h1M307 102h1M316 102h1M336 102h1M340 102h1M343 102h1M315 103h1M346 103h1M306 104h1M308 104h1M319 104h1M324 104h1M350 104h1M365 104h2M304 105h1M322 105h2M329 105h1M333 105h1M337 105h2M346 105h1M349 105h1M354 105h1M324 106h1M329 106h1M333 106h1M344 106h1M346 106h1M318 107h1M329 107h1M337 107h1M350 107h1M284 108h1M310 108h1M312 108h1M319 108h1M329 108h1M331 108h3M335 108h1M341 108h1" stroke="#8cbe45" stroke-width="1" fill="none" opacity="0.65" shape-rendering="crispEdges" transform="translate(0,0.5)"/>
<path d="M322 62h1M326 73h1M386 79h1M373 81h1M269 83h1M271 86h1M321 91h1M283 92h1M298 95h1M312 96h1M343 97h1M365 100h1M361 101h1M311 109h1M371 109h1M285 115h1M323 115h1M332 116h1M391 116h1M289 118h1M383 120h1M291 132h1M345 136h1M339 145h1M326 146h1M283 150h1M274 152h1M386 156h1M356 157h1M343 169h1" stroke="#8cbe45" stroke-width="1" fill="none" opacity="0.55" shape-rendering="crispEdges" transform="translate(0,0.5)"/>
<path d="M388 104h1M375 106h1M374 107h1M383 111h1M386 111h1M366 113h1M375 118h1M383 118h1M387 122h1M393 122h1M372 123h1M377 123h1M389 123h1M393 124h1M376 125h1M378 125h1M382 126h1M384 129h1M363 130h1M375 130h1M379 130h1M392 130h1M387 131h1M385 132h1M389 132h1M377 133h1M381 133h1M378 134h1M390 134h1M380 135h1M383 135h1M376 136h1M378 136h1M389 136h2M367 137h1M383 137h1M379 138h1M367 139h1M379 139h1M373 140h1M381 141h1M390 141h1M372 142h1M375 142h1M373 143h1M377 143h1M377 145h1M379 145h1M365 146h2M380 146h1M393 146h1M382 147h1M388 147h1M380 148h1M374 149h1M383 149h1M379 150h1M388 151h1M374 154h1M376 156h1M386 156h1M383 157h3M377 158h1M378 161h1" stroke="#8cbe45" stroke-width="1" fill="none" opacity="0.6" shape-rendering="crispEdges" transform="translate(0,0.5)"/>
</g>
<clipPath id="cp2"><rect x="95.4" y="179.5" width="154.1" height="146.89999999999998"/></clipPath><g clip-path="url(#cp2)">
<path d="M155.6 293.5 L152.7 295.2 L153.1 297.0 L148.4 297.3 L147.0 298.2 L148.0 300.6 L145.0 300.2 L146.0 304.5 L142.3 302.2 L140.9 305.0 L138.5 304.2 L135.8 306.2 L133.4 305.4 L132.9 301.7 L129.9 302.4 L129.7 300.1 L124.9 300.9 L126.5 298.1 L126.5 296.4 L121.7 295.5 L126.8 293.5 L125.8 292.0 L125.6 290.4 L126.9 289.1 L125.5 286.4 L127.9 285.5 L129.1 283.8 L132.0 283.9 L134.9 285.2 L136.5 284.3 L138.5 285.2 L140.9 282.0 L143.9 281.0 L146.0 282.5 L146.8 284.9 L150.2 284.7 L151.3 286.5 L153.8 287.7 L151.1 290.4 L154.6 291.6Z" fill="#8cbe45"/>
<path d="M127 256h1M125 261h1M117 262h1M119 262h1M129 262h1M137 262h1M143 263h1M138 264h2M150 264h1M155 266h2M125 267h1M136 267h1M150 267h1M167 267h1M110 268h1M128 268h2M131 268h1M133 268h1M149 268h1M105 269h1M135 269h3M147 269h1M150 269h1M156 269h1M111 270h1M116 270h1M124 270h2M129 270h3M134 270h1M136 270h2M145 270h2M148 270h1M160 270h1M114 271h1M121 271h2M128 271h1M130 271h1M133 271h1M142 271h1M146 271h3M122 272h1M129 272h1M133 272h1M136 272h1M138 272h1M151 272h2M154 272h1M118 273h3M122 273h1M126 273h1M135 273h1M139 273h5M147 273h2M155 273h3M160 273h1M122 274h1M127 274h2M132 274h1M136 274h1M138 274h1M140 274h3M145 274h2M149 274h1M152 274h1M161 274h1M115 275h2M122 275h3M126 275h3M135 275h3M139 275h2M143 275h4M148 275h2M152 275h1M156 275h1M167 275h1M172 275h1M109 276h1M114 276h1M121 276h1M126 276h7M134 276h5M140 276h4M145 276h3M150 276h1M152 276h1M154 276h1M159 276h2M99 277h1M103 277h1M105 277h1M108 277h1M121 277h1M128 277h5M134 277h1M137 277h2M140 277h3M144 277h2M147 277h6M155 277h5M164 277h1M170 277h1M109 278h2M121 278h2M124 278h8M133 278h6M140 278h3M144 278h4M149 278h5M155 278h2M159 278h3M169 278h1M179 278h1M102 279h1M104 279h1M115 279h2M119 279h1M121 279h1M123 279h4M128 279h2M131 279h9M141 279h2M144 279h2M147 279h4M153 279h1M155 279h2M159 279h2M168 279h3M96 280h1M114 280h2M117 280h3M122 280h6M129 280h5M135 280h13M149 280h8M159 280h1M162 280h2M167 280h1M101 281h1M109 281h1M112 281h1M116 281h1M118 281h1M121 281h3M125 281h10M136 281h1M138 281h1M140 281h14M158 281h2M161 281h2M171 281h1M106 282h1M108 282h1M110 282h2M114 282h1M116 282h2M120 282h2M123 282h25M149 282h2M152 282h3M156 282h2M161 282h1M173 282h1M106 283h1M108 283h1M112 283h1M117 283h2M122 283h36M159 283h1M161 283h3M168 283h1M174 283h1M181 283h1M108 284h2M113 284h4M120 284h2M123 284h26M150 284h10M161 284h4M166 284h1M106 285h3M110 285h2M114 285h3M119 285h2M122 285h5M129 285h1M131 285h30M163 285h2M169 285h1M95 286h1M105 286h1M107 286h3M111 286h1M117 286h45M163 286h2M168 286h1M174 286h1M182 286h1M97 287h1M109 287h1M111 287h5M120 287h41M162 287h4M170 287h1M185 287h1M104 288h1M107 288h2M110 288h1M112 288h2M115 288h4M120 288h37M159 288h2M163 288h1M165 288h3M169 288h1M171 288h1M181 288h1M96 289h2M106 289h1M111 289h3M115 289h3M119 289h43M164 289h1M166 289h1M171 289h1M97 290h1M102 290h1M105 290h2M112 290h2M117 290h37M155 290h13M170 290h1M173 290h1M177 290h3M184 290h1M97 291h1M107 291h1M109 291h46M156 291h4M161 291h3M165 291h3M169 291h3M181 291h1M96 292h1M103 292h1M106 292h1M108 292h1M111 292h59M171 292h1M97 293h1M105 293h1M107 293h1M109 293h1M113 293h4M118 293h49M170 293h1M172 293h1M182 293h1M97 294h1M99 294h1M105 294h3M109 294h3M113 294h47M161 294h4M166 294h3M179 294h1M95 295h2M102 295h1M107 295h5M114 295h47M162 295h2M165 295h1M167 295h1M169 295h1M172 295h1M95 296h4M105 296h1M107 296h1M109 296h1M112 296h3M116 296h41M159 296h9M169 296h1M172 296h1M174 296h1M96 297h1M98 297h1M100 297h2M107 297h2M110 297h4M115 297h43M159 297h4M165 297h3M170 297h1M184 297h1M106 298h2M109 298h2M112 298h1M114 298h4M119 298h1M121 298h39M161 298h1M163 298h3M167 298h1M172 298h2M96 299h2M107 299h2M110 299h2M114 299h3M118 299h4M123 299h38M162 299h3M167 299h1M169 299h1M112 300h1M114 300h3M118 300h3M122 300h36M159 300h2M163 300h1M166 300h1M168 300h1M171 300h1M175 300h1M96 301h2M103 301h1M108 301h1M110 301h5M116 301h1M118 301h1M120 301h40M161 301h3M165 301h1M168 301h2M174 301h1M96 302h2M103 302h1M105 302h1M109 302h6M116 302h39M156 302h1M158 302h3M162 302h2M167 302h1M170 302h1M176 302h1M178 302h1M96 303h2M107 303h3M114 303h1M116 303h24M141 303h15M157 303h6M169 303h1M174 303h2M182 303h1M97 304h2M102 304h1M105 304h1M108 304h1M110 304h1M113 304h2M117 304h34M152 304h12M166 304h1M183 304h1M97 305h1M99 305h1M109 305h1M112 305h3M116 305h30M147 305h11M159 305h2M162 305h1M167 305h1M169 305h1M173 305h1M97 306h1M101 306h1M103 306h2M106 306h1M111 306h2M115 306h1M119 306h33M153 306h7M161 306h1M163 306h1M168 306h1M170 306h1M97 307h1M109 307h2M115 307h1M117 307h5M123 307h1M125 307h8M134 307h1M136 307h1M138 307h12M151 307h2M154 307h6M166 307h1M169 307h1M171 307h2M96 308h3M115 308h1M119 308h3M124 308h5M130 308h27M158 308h1M161 308h2M174 308h1M177 308h1M98 309h1M110 309h1M112 309h1M114 309h1M117 309h3M121 309h1M123 309h2M126 309h19M146 309h1M148 309h1M150 309h5M156 309h2M159 309h1M161 309h2M165 309h1M168 309h1M96 310h2M104 310h1M109 310h1M115 310h1M117 310h2M121 310h4M128 310h1M130 310h7M138 310h9M148 310h2M151 310h3M155 310h2M158 310h1M161 310h1M163 310h1M167 310h1M97 311h2M113 311h1M115 311h1M118 311h1M121 311h2M124 311h1M126 311h8M135 311h1M137 311h7M145 311h14M97 312h3M105 312h1M112 312h10M123 312h13M139 312h3M143 312h1M149 312h4M154 312h3M162 312h1M164 312h1M167 312h1M96 313h2M113 313h1M118 313h2M121 313h2M126 313h1M129 313h1M131 313h9M141 313h4M146 313h2M150 313h2M156 313h1M162 313h1M165 313h1M169 313h1M95 314h1M97 314h1M107 314h1M117 314h1M120 314h1M125 314h1M127 314h1M129 314h1M133 314h3M139 314h2M146 314h2M150 314h2M153 314h1M156 314h1M159 314h1M161 314h2M106 315h1M111 315h1M114 315h1M120 315h1M124 315h2M128 315h1M132 315h2M138 315h1M142 315h9M153 315h1M155 315h1M160 315h1M171 315h1M112 316h1M115 316h2M118 316h1M120 316h1M124 316h1M129 316h3M134 316h1M136 316h5M142 316h2M145 316h2M153 316h1M155 316h1M157 316h1M160 316h1M96 317h1M112 317h1M118 317h1M120 317h1M128 317h1M130 317h3M135 317h1M138 317h2M142 317h1M147 317h2M151 317h1M159 317h1M164 317h1M167 317h2M180 317h1M98 318h1M106 318h1M110 318h1M114 318h1M117 318h1M119 318h1M121 318h1M123 318h2M130 318h1M132 318h1M137 318h4M144 318h3M148 318h1M150 318h1M158 318h2M95 319h1M122 319h1M127 319h1M130 319h1M137 319h1M144 319h1M146 319h2M107 320h1M112 320h1M114 320h1M123 320h1M128 320h1M133 320h1M141 320h1M149 320h2M158 320h1M162 320h1M117 321h1M123 321h1M125 321h4M145 321h1M159 321h1M172 321h1M135 322h1M137 322h1M140 322h2M146 322h1M153 322h1M165 322h1M169 322h1M97 323h1M144 323h1M119 324h1M127 324h1M132 324h1M135 324h1M144 324h1M155 324h1M133 325h1" stroke="#8cbe45" stroke-width="1" fill="none" opacity="1.0" shape-rendering="crispEdges" transform="translate(0,0.5)"/>
<path d="M120 324h1M124 324h1M127 324h1M131 324h5M137 324h1M139 324h2M142 324h1M149 324h3M155 324h1M157 324h1M159 324h1M163 324h1M165 324h2M168 324h3M181 324h2M186 324h1M190 324h1M192 324h1M118 325h4M123 325h4M128 325h1M130 325h1M135 325h2M141 325h1M143 325h2M146 325h1M148 325h1M150 325h1M152 325h2M155 325h1M157 325h2M160 325h2M163 325h3M167 325h5M173 325h1M180 325h2M184 325h3M188 325h4M193 325h3" stroke="#8cbe45" stroke-width="1" fill="none" opacity="0.6" shape-rendering="crispEdges" transform="translate(0,0.5)"/>
<path d="M142 314h1M118 315h1M139 315h1M104 316h1M127 316h1M137 316h1M104 317h1M140 317h1M142 317h2M159 317h1M183 317h1M110 318h1M119 318h1M124 318h1M138 318h1M141 318h1M155 318h1M166 318h1M169 318h1M172 318h1M190 318h1M115 319h1M119 319h3M126 319h1M130 319h1M132 319h2M135 319h1M137 319h1M144 319h5M151 319h1M159 319h2M162 319h3M173 319h1M109 320h1M114 320h1M118 320h2M122 320h1M125 320h1M127 320h1M130 320h1M132 320h1M134 320h1M136 320h2M139 320h6M153 320h2M156 320h2M159 320h1M163 320h1M165 320h1M167 320h1M170 320h1M195 320h1M100 321h1M102 321h1M109 321h1M114 321h1M118 321h2M123 321h1M125 321h1M127 321h1M131 321h2M134 321h1M137 321h2M140 321h1M144 321h2M154 321h2M162 321h1M164 321h1M178 321h1M107 322h1M109 322h1M113 322h2M122 322h1M125 322h2M128 322h9M140 322h3M145 322h5M151 322h2M154 322h2M158 322h1M163 322h1M166 322h2M173 322h2M179 322h1M99 323h1M117 323h1M120 323h1M127 323h3M131 323h2M136 323h6M143 323h2M147 323h2M150 323h4M158 323h1M161 323h3M171 323h1M173 323h2M96 324h1M102 324h1M108 324h1M116 324h1M119 324h1M123 324h1M125 324h3M129 324h1M131 324h3M135 324h4M140 324h2M143 324h1M145 324h2M149 324h1M151 324h4M156 324h2M162 324h1M175 324h1M179 324h1M99 325h1M113 325h1M116 325h1M122 325h1M124 325h1M126 325h1M130 325h2M135 325h1M140 325h1M145 325h1M147 325h1M152 325h1M160 325h1M165 325h1" stroke="#8cbe45" stroke-width="1" fill="none" opacity="0.8" shape-rendering="crispEdges" transform="translate(0,0.5)"/>
<path d="M108 231h1M154 231h1M117 235h1M121 235h1M153 235h1M161 236h1M130 238h1M149 238h1M132 239h1M144 239h1M126 241h1M124 242h1M152 242h1M139 243h1M151 243h1M109 245h1M122 245h1M126 245h1M127 246h1M138 246h1M156 246h1M117 247h1M124 247h1M147 247h1M156 247h1M112 248h1M123 248h1M135 248h2M139 248h1M139 249h1M148 249h1M106 250h1M133 250h1M135 250h1M138 250h1M141 250h1M155 250h1M121 251h1M133 251h1M140 251h1M131 254h1M147 254h1M136 255h2M144 255h1M153 255h1M124 256h1M147 256h1M131 258h1M108 259h1M133 259h1M158 259h1" stroke="#8cbe45" stroke-width="1" fill="none" opacity="0.6" shape-rendering="crispEdges" transform="translate(0,0.5)"/>
<path d="M207 240h1M186 242h1M190 245h1M180 246h1M191 246h1M191 247h1M179 248h1M194 248h1M199 248h1M201 248h1M209 250h1M179 251h1M181 251h1M188 251h1M206 251h1M211 251h1M197 252h1M183 253h1M192 253h1M187 254h1M181 255h1M183 255h1M199 255h1M197 257h1M187 258h1M209 258h1M185 259h1M205 259h1" stroke="#8cbe45" stroke-width="1" fill="none" opacity="0.55" shape-rendering="crispEdges" transform="translate(0,0.5)"/>
<path d="M222 265h1M217 266h1M221 268h1M215 270h1M185 271h1M186 274h1M199 274h1M187 276h1M183 277h1M211 278h1M177 279h1M203 279h1M208 280h1M190 281h1M205 281h1M212 283h1M214 283h1M218 283h1M182 284h1M213 285h1M217 285h1M185 287h2M203 287h1M208 287h1M223 287h1M201 288h1M203 288h1M178 290h1M202 290h1M192 291h1M205 291h1M191 292h1M212 292h1M177 293h1M191 294h1M221 294h1M194 295h1M216 295h1M203 297h1M223 298h1M183 299h1M209 299h1M176 300h1M217 300h1M187 302h1M193 304h1M182 306h1M214 306h1M219 306h1M211 307h1M188 308h1M192 309h1M200 309h1M190 310h1M210 310h2M201 312h1M196 313h1M213 314h1M218 314h1M203 316h1M224 316h1M209 318h1M217 318h1M225 318h1M217 319h1M205 321h1M211 322h1M192 323h1" stroke="#8cbe45" stroke-width="1" fill="none" opacity="0.5" shape-rendering="crispEdges" transform="translate(0,0.5)"/>
</g>
<clipPath id="cp3"><rect x="253.8" y="179.5" width="153.59999999999997" height="146.89999999999998"/></clipPath><g clip-path="url(#cp3)">
<path d="M311.2 294.5 L317.4 296.5 L312.8 297.6 L314.0 299.9 L312.7 301.5 L310.7 302.7 L308.7 303.9 L307.4 306.1 L303.6 304.3 L301.0 303.5 L299.0 305.6 L296.7 304.6 L295.4 302.3 L291.8 304.4 L292.3 300.9 L288.7 301.7 L287.9 300.1 L287.6 298.6 L287.1 297.2 L282.8 296.3 L285.4 294.5 L284.5 292.9 L287.2 291.8 L287.4 290.4 L285.1 287.4 L289.6 287.9 L291.4 287.2 L293.7 287.2 L294.0 283.8 L296.7 284.5 L299.0 284.0 L301.4 284.1 L304.0 283.7 L306.1 284.7 L307.5 286.3 L309.9 286.9 L310.4 288.7 L309.9 290.6 L311.8 291.6 L315.5 292.7Z" fill="#8cbe45"/>
<path d="M296 254h1M278 260h1M298 263h1M303 264h1M300 265h1M330 265h1M293 266h1M321 266h1M277 267h1M279 267h1M290 268h1M294 268h1M307 268h1M313 268h1M336 268h1M281 269h1M283 269h1M304 269h1M312 269h1M274 270h1M289 270h1M306 270h1M315 270h1M324 270h1M282 271h1M294 271h1M296 271h1M298 271h1M301 271h1M303 271h2M309 271h2M313 271h1M275 272h1M277 272h2M286 272h1M289 272h1M291 272h1M293 272h1M296 272h1M299 272h1M304 272h1M307 272h3M268 273h1M273 273h1M278 273h1M280 273h1M283 273h1M289 273h1M291 273h6M301 273h1M305 273h2M311 273h1M313 273h1M318 273h1M256 274h1M262 274h1M280 274h1M284 274h2M290 274h1M292 274h2M295 274h3M301 274h1M305 274h1M308 274h1M310 274h1M316 274h1M274 275h1M277 275h2M284 275h1M288 275h1M291 275h1M295 275h1M297 275h1M301 275h2M304 275h1M306 275h1M309 275h2M312 275h2M323 275h1M325 275h1M283 276h1M285 276h1M287 276h2M291 276h1M294 276h3M299 276h1M301 276h4M306 276h5M318 276h1M282 277h4M287 277h2M290 277h2M294 277h2M297 277h2M300 277h4M305 277h1M307 277h1M309 277h1M312 277h1M314 277h1M316 277h1M318 277h3M324 277h2M255 278h1M264 278h1M271 278h1M276 278h2M279 278h3M284 278h1M286 278h5M292 278h4M297 278h1M299 278h4M305 278h4M310 278h1M312 278h1M314 278h1M317 278h2M320 278h2M324 278h1M330 278h1M333 278h1M265 279h1M268 279h1M277 279h1M280 279h1M282 279h3M286 279h10M297 279h1M299 279h18M318 279h2M325 279h1M277 280h2M281 280h5M288 280h19M308 280h2M312 280h4M318 280h3M327 280h1M332 280h3M273 281h1M278 281h1M282 281h2M285 281h2M288 281h18M307 281h3M311 281h6M320 281h2M323 281h4M333 281h1M270 282h1M274 282h1M276 282h5M283 282h28M312 282h3M316 282h2M319 282h4M324 282h2M330 282h1M265 283h1M271 283h4M276 283h3M280 283h10M291 283h23M315 283h3M319 283h4M324 283h2M327 283h2M256 284h1M268 284h1M270 284h1M273 284h2M276 284h4M281 284h33M315 284h7M323 284h1M325 284h2M328 284h1M330 284h1M338 284h1M256 285h1M273 285h2M276 285h1M278 285h41M321 285h1M325 285h1M330 285h1M338 285h1M255 286h1M271 286h3M276 286h41M318 286h2M321 286h4M259 287h2M263 287h4M269 287h1M271 287h3M275 287h2M279 287h45M326 287h1M332 287h1M267 288h1M270 288h2M273 288h8M282 288h41M324 288h1M326 288h4M331 288h1M339 288h1M255 289h2M261 289h1M263 289h2M270 289h2M274 289h45M321 289h1M324 289h2M328 289h1M330 289h1M332 289h2M335 289h1M337 289h1M256 290h1M266 290h1M268 290h1M271 290h3M275 290h49M326 290h2M334 290h1M342 290h1M256 291h1M258 291h1M267 291h1M269 291h1M273 291h2M276 291h1M278 291h48M327 291h3M338 291h1M255 292h1M259 292h2M265 292h1M267 292h1M269 292h11M281 292h41M323 292h1M325 292h2M328 292h2M260 293h1M269 293h1M271 293h1M273 293h46M321 293h2M324 293h2M328 293h2M332 293h1M338 293h1M255 294h2M264 294h1M273 294h51M325 294h4M330 294h1M334 294h1M337 294h1M254 295h1M256 295h3M261 295h1M267 295h1M269 295h1M272 295h52M325 295h1M329 295h1M334 295h1M256 296h2M266 296h1M269 296h2M272 296h50M323 296h5M330 296h1M332 296h1M346 296h1M255 297h2M260 297h1M269 297h5M275 297h41M317 297h4M322 297h4M335 297h1M263 298h1M269 298h4M274 298h2M277 298h7M285 298h41M328 298h1M341 298h1M254 299h1M256 299h2M267 299h3M271 299h2M274 299h1M277 299h2M281 299h44M326 299h1M330 299h1M332 299h1M335 299h1M341 299h1M256 300h1M266 300h1M269 300h1M271 300h2M274 300h48M324 300h1M326 300h4M255 301h3M262 301h1M272 301h1M274 301h3M281 301h42M324 301h1M332 301h1M337 301h1M342 301h1M255 302h2M262 302h1M264 302h1M266 302h1M270 302h1M272 302h2M275 302h45M322 302h1M325 302h1M327 302h2M330 302h1M332 302h2M254 303h1M262 303h1M269 303h5M275 303h10M286 303h34M321 303h1M332 303h1M335 303h1M348 303h1M256 304h1M270 304h8M279 304h35M315 304h10M326 304h2M329 304h1M334 304h1M254 305h1M265 305h1M267 305h2M273 305h2M277 305h2M280 305h3M284 305h1M286 305h29M316 305h7M324 305h2M327 305h1M329 305h1M255 306h2M263 306h1M272 306h1M274 306h35M310 306h9M321 306h2M325 306h1M333 306h1M348 306h1M255 307h2M264 307h1M276 307h1M278 307h1M280 307h3M284 307h33M318 307h2M321 307h1M324 307h2M255 308h2M265 308h1M267 308h1M270 308h2M275 308h2M278 308h3M282 308h38M321 308h1M323 308h3M327 308h1M334 308h1M255 309h1M266 309h1M269 309h2M273 309h1M275 309h2M280 309h3M285 309h4M290 309h33M330 309h1M255 310h1M268 310h1M274 310h1M277 310h6M286 310h2M289 310h1M292 310h18M311 310h2M314 310h5M321 310h4M326 310h1M328 310h1M330 310h1M335 310h1M273 311h6M280 311h3M284 311h23M308 311h3M312 311h2M315 311h2M327 311h1M336 311h1M254 312h1M264 312h1M268 312h1M279 312h1M284 312h4M289 312h4M294 312h2M297 312h3M301 312h5M308 312h3M312 312h1M314 312h5M321 312h1M323 312h1M326 312h1M328 312h1M333 312h1M276 313h2M279 313h1M284 313h4M290 313h1M292 313h2M295 313h4M300 313h1M302 313h2M305 313h3M309 313h3M313 313h3M317 313h3M325 313h2M255 314h1M274 314h2M280 314h1M283 314h1M285 314h2M288 314h1M291 314h2M294 314h8M303 314h3M308 314h2M313 314h3M320 314h1M332 314h1M334 314h1M277 315h3M281 315h1M283 315h3M287 315h2M290 315h3M294 315h1M296 315h2M299 315h2M305 315h1M307 315h1M309 315h2M313 315h2M316 315h2M322 315h1M271 316h1M275 316h1M277 316h1M279 316h1M288 316h2M292 316h2M295 316h3M301 316h1M303 316h1M305 316h1M307 316h1M309 316h1M311 316h1M314 316h1M316 316h3M325 316h2M285 317h1M290 317h1M295 317h1M297 317h1M302 317h1M305 317h1M309 317h1M311 317h2M317 317h1M319 317h1M324 317h2M263 318h1M274 318h1M276 318h1M289 318h1M296 318h1M298 318h1M300 318h2M304 318h1M313 318h2M318 318h1M327 318h1M329 318h1M265 319h1M278 319h1M281 319h3M297 319h1M301 319h2M305 319h1M307 319h5M323 319h3M264 320h1M278 320h2M283 320h1M289 320h1M304 320h1M309 320h1M313 320h1M286 321h1M290 321h1M295 321h1M304 321h3M309 321h1M311 321h1M313 321h1M316 321h1M327 321h1M272 322h1M277 322h1M285 322h1M294 322h1M298 322h1M302 322h2M306 322h1M310 322h1M260 323h1M275 323h1M279 323h1M287 323h1M291 323h1M295 323h1M298 323h1M321 323h1M269 324h1M272 324h1M277 324h1M283 324h1M289 324h1M302 324h1M285 325h1M289 325h1M316 325h1" stroke="#8cbe45" stroke-width="1" fill="none" opacity="1.0" shape-rendering="crispEdges" transform="translate(0,0.5)"/>
<path d="M281 324h4M290 324h1M293 324h2M297 324h2M300 324h3M305 324h1M307 324h1M309 324h2M312 324h3M316 324h1M321 324h1M324 324h1M326 324h1M330 324h1M336 324h1M338 324h1M346 324h1M351 324h2M280 325h3M284 325h1M286 325h6M296 325h5M302 325h1M304 325h1M308 325h6M315 325h1M317 325h1M319 325h3M323 325h1M325 325h1M328 325h3M332 325h1M334 325h3M338 325h3M342 325h2M347 325h1M350 325h2" stroke="#8cbe45" stroke-width="1" fill="none" opacity="0.6" shape-rendering="crispEdges" transform="translate(0,0.5)"/>
<path d="M280 316h1M299 316h1M306 316h1M316 316h1M273 317h1M287 317h1M290 317h2M294 317h1M298 317h2M320 317h1M262 318h1M278 318h1M280 318h1M286 318h1M293 318h1M304 318h1M310 318h1M318 318h1M332 318h1M256 319h1M267 319h1M271 319h1M279 319h1M281 319h1M288 319h2M291 319h3M297 319h1M300 319h1M307 319h2M313 319h1M320 319h1M325 319h1M331 319h1M274 320h1M283 320h3M294 320h1M296 320h1M298 320h2M301 320h1M304 320h1M306 320h3M311 320h2M318 320h1M322 320h1M324 320h3M331 320h2M335 320h1M347 320h1M275 321h4M280 321h1M282 321h1M285 321h1M288 321h2M294 321h4M299 321h1M301 321h3M308 321h3M312 321h1M314 321h5M320 321h1M324 321h1M333 321h2M349 321h1M356 321h1M258 322h1M264 322h1M273 322h3M286 322h2M290 322h4M295 322h5M301 322h3M305 322h2M308 322h5M315 322h1M322 322h1M325 322h2M328 322h1M334 322h1M337 322h1M263 323h1M266 323h1M274 323h1M276 323h3M280 323h1M289 323h2M293 323h1M296 323h3M300 323h1M304 323h1M306 323h1M308 323h5M314 323h4M321 323h1M324 323h3M261 324h1M275 324h1M284 324h3M289 324h1M291 324h3M298 324h2M306 324h1M308 324h2M311 324h2M316 324h2M335 324h1M278 325h1M286 325h1M291 325h1M300 325h2M309 325h1M311 325h1M320 325h1M325 325h1" stroke="#8cbe45" stroke-width="1" fill="none" opacity="0.8" shape-rendering="crispEdges" transform="translate(0,0.5)"/>
<path d="M293 237h1M301 237h1M283 238h1M286 238h1M295 239h1M308 239h1M278 240h1M321 240h1M281 241h1M311 241h2M330 241h1M276 242h1M281 242h1M303 242h1M265 243h2M298 243h1M306 243h1M282 244h1M302 244h1M286 245h1M314 245h1M316 245h2M270 246h1M295 246h2M319 246h1M275 247h1M284 247h1M294 247h1M275 248h2M278 248h1M304 248h2M318 248h1M330 248h1M260 249h1M268 249h1M309 249h1M319 249h1M267 250h1M280 250h1M292 250h1M301 250h1M314 250h1M325 250h1M284 251h1M298 251h1M308 251h1M323 251h1M326 251h1M268 252h1M307 252h1M320 252h1M324 252h1M286 253h1M310 253h1M315 253h2M320 253h1M327 253h1M299 254h1M310 255h1M267 256h1M281 256h1M302 256h1M292 257h1M296 257h1M316 257h1M264 258h1M278 258h1M300 258h1M292 259h1M296 259h1M302 259h1M312 259h1M326 259h1" stroke="#8cbe45" stroke-width="1" fill="none" opacity="0.6" shape-rendering="crispEdges" transform="translate(0,0.5)"/>
<path d="M348 225h1M352 225h1M370 225h1M360 227h1M373 227h1M378 228h1M337 231h1M360 231h1M347 232h1M364 232h1M383 233h1M344 235h1M353 235h1M367 235h1M369 235h1M359 236h1M352 237h1M361 237h1M340 238h1M342 238h1M347 239h1M378 239h1M359 240h1M352 243h1M356 243h1M373 243h1M375 243h1M362 244h1M364 244h1M370 244h1M337 245h1M348 245h1M361 245h1M364 245h1M369 245h1M352 247h1M365 247h1M348 248h1M357 248h1M342 249h1M356 249h1M365 249h1M347 250h1M358 251h1M339 253h1M349 253h1M362 253h1M351 254h1M363 254h1M371 255h1M336 257h1M348 258h1M372 258h1" stroke="#8cbe45" stroke-width="1" fill="none" opacity="0.55" shape-rendering="crispEdges" transform="translate(0,0.5)"/>
<path d="M338 266h1M380 266h1M335 267h1M338 267h1M370 267h1M345 270h1M352 270h1M372 270h1M340 271h1M359 272h1M382 272h1M351 275h1M353 275h1M379 275h1M369 276h1M354 277h1M370 280h1M343 281h1M370 281h1M371 283h1M365 285h1M336 286h1M344 286h1M353 286h1M358 286h1M357 287h1M349 289h1M354 289h1M367 289h1M341 290h1M367 290h1M339 291h1M354 291h1M365 291h1M359 292h1M351 293h1M358 294h1M366 294h1M374 294h1M384 295h1M336 296h1M346 296h1M338 298h1M349 298h1M364 298h1M337 299h1M343 299h1M345 299h2M370 299h1M378 301h1M354 302h1M381 302h1M337 303h1M346 303h1M374 303h1M352 304h1M340 306h1M344 306h1M347 306h1M371 307h1M376 307h1M377 308h1M337 309h1M357 310h1M349 312h1M336 313h1M366 315h1M340 316h1M364 316h1M345 317h1M339 318h1M348 318h1M345 319h1M378 319h1M383 320h1M347 322h1M352 322h1M354 322h1M380 324h1" stroke="#8cbe45" stroke-width="1" fill="none" opacity="0.5" shape-rendering="crispEdges" transform="translate(0,0.5)"/>
</g>
<rect x="95.4" y="25.3" width="154.1" height="147.29999999999998" fill="none" stroke="#2e2e2e" stroke-width="1.25"/>
<line x1="174.8" y1="25.3" x2="174.8" y2="172.6" stroke="#050505" stroke-width="1.25"/>
<line x1="95.4" y1="107.8" x2="249.5" y2="107.8" stroke="#050505" stroke-width="1.25"/>
<text x="246.1" y="37.1" font-size="10.8" text-anchor="end" font-weight="normal" fill="#1c191a" stroke="#1c191a" stroke-width="0.12" >0.5%</text>
<text x="247.0" y="170.7" font-size="10.8" text-anchor="end" font-weight="normal" fill="#1c191a" stroke="#1c191a" stroke-width="0.12" >1.4%</text>
<rect x="253.8" y="25.3" width="154.0" height="147.29999999999998" fill="none" stroke="#2e2e2e" stroke-width="1.25"/>
<line x1="333.8" y1="25.3" x2="333.8" y2="172.6" stroke="#050505" stroke-width="1.25"/>
<line x1="253.8" y1="107.8" x2="407.8" y2="107.8" stroke="#050505" stroke-width="1.25"/>
<text x="403.6" y="37.0" font-size="10.8" text-anchor="end" font-weight="normal" fill="#1c191a" stroke="#1c191a" stroke-width="0.12" >4.6%</text>
<text x="405.5" y="170.79999999999998" font-size="10.8" text-anchor="end" font-weight="normal" fill="#1c191a" stroke="#1c191a" stroke-width="0.12" >22.3%</text>
<rect x="95.4" y="179.5" width="154.1" height="146.89999999999998" fill="none" stroke="#2e2e2e" stroke-width="1.25"/>
<line x1="174.8" y1="179.5" x2="174.8" y2="326.4" stroke="#303030" stroke-width="1.55"/>
<line x1="95.4" y1="261.4" x2="249.5" y2="261.4" stroke="#050505" stroke-width="1.25"/>
<text x="247.1" y="190.7" font-size="10.8" text-anchor="end" font-weight="normal" fill="#1c191a" stroke="#1c191a" stroke-width="0.12" >0.3%</text>
<text x="247.1" y="324.4" font-size="10.8" text-anchor="end" font-weight="normal" fill="#1c191a" stroke="#1c191a" stroke-width="0.12" >1.3%</text>
<rect x="253.8" y="179.5" width="153.59999999999997" height="146.89999999999998" fill="none" stroke="#2e2e2e" stroke-width="1.25"/>
<line x1="333.8" y1="179.5" x2="333.8" y2="326.4" stroke="#050505" stroke-width="1.25"/>
<line x1="253.8" y1="261.4" x2="407.4" y2="261.4" stroke="#050505" stroke-width="1.25"/>
<text x="406.09999999999997" y="190.7" font-size="10.8" text-anchor="end" font-weight="normal" fill="#1c191a" stroke="#1c191a" stroke-width="0.12" >0.4%</text>
<text x="406.09999999999997" y="324.4" font-size="10.8" text-anchor="end" font-weight="normal" fill="#1c191a" stroke="#1c191a" stroke-width="0.12" >1.2%</text>
<text x="504.6" y="25.8" font-size="14" text-anchor="start" font-weight="bold" fill="#000" stroke="#000" stroke-width="0.12" >B</text>
<text x="642.6" y="24.6" font-size="10.8" text-anchor="middle" font-weight="normal" fill="#1c191a" stroke="#1c191a" stroke-width="0.12" >PC3</text>
<line x1="555.8" y1="17.5" x2="555.8" y2="159.8" stroke="#111" stroke-width="1.8"/>
<line x1="554.9" y1="159.0" x2="767.8" y2="159.0" stroke="#111" stroke-width="1.8"/>
<line x1="551.6" y1="158.9" x2="555.6" y2="158.9" stroke="#111" stroke-width="1.3"/>
<text x="549.4" y="163.4" font-size="10.8" text-anchor="end" font-weight="normal" fill="#1c191a" stroke="#1c191a" stroke-width="0.12" >0.0</text>
<line x1="551.6" y1="123.72500000000001" x2="555.6" y2="123.72500000000001" stroke="#111" stroke-width="1.3"/>
<text x="549.4" y="128.625" font-size="10.8" text-anchor="end" font-weight="normal" fill="#1c191a" stroke="#1c191a" stroke-width="0.12" >0.5</text>
<line x1="551.6" y1="88.55000000000001" x2="555.6" y2="88.55000000000001" stroke="#111" stroke-width="1.3"/>
<text x="549.4" y="93.95000000000002" font-size="10.8" text-anchor="end" font-weight="normal" fill="#1c191a" stroke="#1c191a" stroke-width="0.12" >1.0</text>
<line x1="551.6" y1="53.375000000000014" x2="555.6" y2="53.375000000000014" stroke="#111" stroke-width="1.3"/>
<text x="549.4" y="58.875000000000014" font-size="10.8" text-anchor="end" font-weight="normal" fill="#1c191a" stroke="#1c191a" stroke-width="0.12" >1.5</text>
<line x1="551.6" y1="18.200000000000017" x2="555.6" y2="18.200000000000017" stroke="#111" stroke-width="1.3"/>
<text x="549.4" y="23.700000000000017" font-size="10.8" text-anchor="end" font-weight="normal" fill="#1c191a" stroke="#1c191a" stroke-width="0.12" >2.0</text>
<text transform="translate(527.2,102.3) rotate(-90)" font-size="10.8" fill="#1c191a" stroke="#1c191a" stroke-width="0.12">OD<tspan font-size="8.6" dy="2.6">450</tspan></text>
<line x1="572.1" y1="128.5" x2="572.1" y2="130.1" stroke="#111" stroke-width="1.4"/>
<line x1="568.3000000000001" y1="128.5" x2="575.9" y2="128.5" stroke="#111" stroke-width="1.4"/>
<rect x="565.70" y="130.80" width="12.80" height="28.10" fill="#fff" stroke="#111" stroke-width="1.4"/>
<line x1="591.95" y1="138.5" x2="591.95" y2="140.2" stroke="#111" stroke-width="1.4"/>
<line x1="588.1500000000001" y1="138.5" x2="595.75" y2="138.5" stroke="#111" stroke-width="1.4"/>
<rect x="585.60" y="140.90" width="12.70" height="18.00" fill="#5e5e5e" stroke="#111" stroke-width="1.4"/>
<line x1="624.95" y1="92.0" x2="624.95" y2="97.6" stroke="#111" stroke-width="1.4"/>
<line x1="621.1500000000001" y1="92.0" x2="628.75" y2="92.0" stroke="#111" stroke-width="1.4"/>
<rect x="618.60" y="98.30" width="12.70" height="60.60" fill="#fff" stroke="#111" stroke-width="1.4"/>
<line x1="644.8" y1="118.4" x2="644.8" y2="127.7" stroke="#111" stroke-width="1.4"/>
<line x1="641.0" y1="118.4" x2="648.5999999999999" y2="118.4" stroke="#111" stroke-width="1.4"/>
<rect x="638.40" y="128.40" width="12.80" height="30.50" fill="#5e5e5e" stroke="#111" stroke-width="1.4"/>
<line x1="677.85" y1="62.1" x2="677.85" y2="66.8" stroke="#111" stroke-width="1.4"/>
<line x1="674.0500000000001" y1="62.1" x2="681.65" y2="62.1" stroke="#111" stroke-width="1.4"/>
<rect x="671.40" y="67.50" width="12.90" height="91.40" fill="#fff" stroke="#111" stroke-width="1.4"/>
<line x1="697.55" y1="106.1" x2="697.55" y2="118.3" stroke="#111" stroke-width="1.4"/>
<line x1="693.75" y1="106.1" x2="701.3499999999999" y2="106.1" stroke="#111" stroke-width="1.4"/>
<rect x="691.10" y="119.00" width="12.90" height="39.90" fill="#5e5e5e" stroke="#111" stroke-width="1.4"/>
<line x1="730.65" y1="51.5" x2="730.65" y2="60.3" stroke="#111" stroke-width="1.4"/>
<line x1="726.85" y1="51.5" x2="734.4499999999999" y2="51.5" stroke="#111" stroke-width="1.4"/>
<rect x="724.20" y="61.00" width="12.90" height="97.90" fill="#fff" stroke="#111" stroke-width="1.4"/>
<line x1="750.3" y1="81.0" x2="750.3" y2="91.2" stroke="#111" stroke-width="1.4"/>
<line x1="746.5" y1="81.0" x2="754.0999999999999" y2="81.0" stroke="#111" stroke-width="1.4"/>
<rect x="743.80" y="91.90" width="13.00" height="67.00" fill="#5e5e5e" stroke="#111" stroke-width="1.4"/>
<line x1="582.3" y1="158.9" x2="582.3" y2="163.70000000000002" stroke="#111" stroke-width="1.3"/>
<text x="582.9" y="177.2" font-size="10.8" text-anchor="middle" font-weight="normal" fill="#1c191a" stroke="#1c191a" stroke-width="0.12" >24h</text>
<line x1="635.0" y1="158.9" x2="635.0" y2="163.70000000000002" stroke="#111" stroke-width="1.3"/>
<text x="635.6" y="177.2" font-size="10.8" text-anchor="middle" font-weight="normal" fill="#1c191a" stroke="#1c191a" stroke-width="0.12" >48h</text>
<line x1="687.7" y1="158.9" x2="687.7" y2="163.70000000000002" stroke="#111" stroke-width="1.3"/>
<text x="688.3000000000001" y="177.2" font-size="10.8" text-anchor="middle" font-weight="normal" fill="#1c191a" stroke="#1c191a" stroke-width="0.12" >72h</text>
<line x1="740.4" y1="158.9" x2="740.4" y2="163.70000000000002" stroke="#111" stroke-width="1.3"/>
<text x="741.0" y="177.2" font-size="10.8" text-anchor="middle" font-weight="normal" fill="#1c191a" stroke="#1c191a" stroke-width="0.12" >96h</text>
<text x="592.7" y="136.9" font-size="9.6" text-anchor="middle" font-weight="normal" fill="#111" stroke="#111" stroke-width="0.12" letter-spacing="0.4">**</text>
<text x="645.3" y="118.1" font-size="9.6" text-anchor="middle" font-weight="normal" fill="#111" stroke="#111" stroke-width="0.12" >*</text>
<text x="697.5" y="105.3" font-size="9.6" text-anchor="middle" font-weight="normal" fill="#111" stroke="#111" stroke-width="0.12" >*</text>
<text x="750.5" y="81.3" font-size="9.6" text-anchor="middle" font-weight="normal" fill="#111" stroke="#111" stroke-width="0.12" letter-spacing="0.4">**</text>
<rect x="764.4" y="24.1" width="14.8" height="7.4" fill="#fff" stroke="#111" stroke-width="1.4"/>
<rect x="764.4" y="37.7" width="14.8" height="7.4" fill="#5e5e5e" stroke="#111" stroke-width="1.4"/>
<text x="783.6" y="29.8" font-size="10.8" text-anchor="start" font-weight="normal" fill="#1c191a" stroke="#1c191a" stroke-width="0.12" >vector</text>
<text x="783.6" y="44.8" font-size="10.8" text-anchor="start" font-weight="normal" fill="#1c191a" stroke="#1c191a" stroke-width="0.12" >shE2F1</text>
<text x="504.4" y="204.0" font-size="14" text-anchor="start" font-weight="bold" fill="#000" stroke="#000" stroke-width="0.12" >C</text>
<text x="648.6" y="205.8" font-size="10.8" text-anchor="middle" font-weight="normal" fill="#1c191a" stroke="#1c191a" stroke-width="0.12" >DU145</text>
<line x1="555.6" y1="194.4" x2="555.6" y2="339.79999999999995" stroke="#111" stroke-width="1.8"/>
<line x1="554.7" y1="339.0" x2="772.6" y2="339.0" stroke="#111" stroke-width="1.8"/>
<line x1="548.6" y1="338.9" x2="555.6" y2="338.9" stroke="#111" stroke-width="1.3"/>
<text x="547.5" y="343.7" font-size="10.8" text-anchor="end" font-weight="normal" fill="#1c191a" stroke="#1c191a" stroke-width="0.12" >0.0</text>
<line x1="548.6" y1="310.15" x2="555.6" y2="310.15" stroke="#111" stroke-width="1.3"/>
<text x="547.5" y="314.45" font-size="10.8" text-anchor="end" font-weight="normal" fill="#1c191a" stroke="#1c191a" stroke-width="0.12" >0.5</text>
<line x1="548.6" y1="281.4" x2="555.6" y2="281.4" stroke="#111" stroke-width="1.3"/>
<text x="547.5" y="285.29999999999995" font-size="10.8" text-anchor="end" font-weight="normal" fill="#1c191a" stroke="#1c191a" stroke-width="0.12" >1.0</text>
<line x1="548.6" y1="252.64999999999998" x2="555.6" y2="252.64999999999998" stroke="#111" stroke-width="1.3"/>
<text x="547.5" y="256.25" font-size="10.8" text-anchor="end" font-weight="normal" fill="#1c191a" stroke="#1c191a" stroke-width="0.12" >1.5</text>
<line x1="548.6" y1="223.89999999999998" x2="555.6" y2="223.89999999999998" stroke="#111" stroke-width="1.3"/>
<text x="547.5" y="227.09999999999997" font-size="10.8" text-anchor="end" font-weight="normal" fill="#1c191a" stroke="#1c191a" stroke-width="0.12" >2.0</text>
<line x1="548.6" y1="195.14999999999998" x2="555.6" y2="195.14999999999998" stroke="#111" stroke-width="1.3"/>
<text x="545.8" y="202.74999999999997" font-size="10.8" text-anchor="end" font-weight="normal" fill="#1c191a" stroke="#1c191a" stroke-width="0.12" >2.5</text>
<text transform="translate(527.2,281.3) rotate(-90)" font-size="10.8" fill="#1c191a" stroke="#1c191a" stroke-width="0.12">OD<tspan font-size="8.6" dy="2.6">450</tspan></text>
<line x1="571.75" y1="319.3" x2="571.75" y2="320.2" stroke="#111" stroke-width="1.4"/>
<line x1="567.85" y1="319.3" x2="575.65" y2="319.3" stroke="#111" stroke-width="1.4"/>
<rect x="565.10" y="320.90" width="13.30" height="18.00" fill="#fff" stroke="#111" stroke-width="1.4"/>
<line x1="592.1500000000001" y1="321.8" x2="592.1500000000001" y2="323.3" stroke="#111" stroke-width="1.4"/>
<line x1="588.2500000000001" y1="321.8" x2="596.0500000000001" y2="321.8" stroke="#111" stroke-width="1.4"/>
<rect x="585.40" y="324.00" width="13.50" height="14.90" fill="#5e5e5e" stroke="#111" stroke-width="1.4"/>
<line x1="625.95" y1="306.6" x2="625.95" y2="307.8" stroke="#111" stroke-width="1.4"/>
<line x1="622.0500000000001" y1="306.6" x2="629.85" y2="306.6" stroke="#111" stroke-width="1.4"/>
<rect x="619.20" y="308.50" width="13.50" height="30.40" fill="#fff" stroke="#111" stroke-width="1.4"/>
<line x1="646.2" y1="306.3" x2="646.2" y2="307.8" stroke="#111" stroke-width="1.4"/>
<line x1="642.3000000000001" y1="306.3" x2="650.1" y2="306.3" stroke="#111" stroke-width="1.4"/>
<rect x="639.50" y="308.50" width="13.40" height="30.40" fill="#5e5e5e" stroke="#111" stroke-width="1.4"/>
<line x1="680.1500000000001" y1="288.5" x2="680.1500000000001" y2="289.8" stroke="#111" stroke-width="1.4"/>
<line x1="676.2500000000001" y1="288.5" x2="684.0500000000001" y2="288.5" stroke="#111" stroke-width="1.4"/>
<rect x="673.40" y="290.50" width="13.50" height="48.40" fill="#fff" stroke="#111" stroke-width="1.4"/>
<line x1="700.5" y1="288.4" x2="700.5" y2="289.8" stroke="#111" stroke-width="1.4"/>
<line x1="696.6" y1="288.4" x2="704.4" y2="288.4" stroke="#111" stroke-width="1.4"/>
<rect x="693.80" y="290.50" width="13.40" height="48.40" fill="#5e5e5e" stroke="#111" stroke-width="1.4"/>
<line x1="734.3" y1="228.4" x2="734.3" y2="235.9" stroke="#111" stroke-width="1.4"/>
<line x1="730.4" y1="228.4" x2="738.1999999999999" y2="228.4" stroke="#111" stroke-width="1.4"/>
<rect x="727.60" y="236.60" width="13.40" height="102.30" fill="#fff" stroke="#111" stroke-width="1.4"/>
<line x1="754.6" y1="223.4" x2="754.6" y2="229.0" stroke="#111" stroke-width="1.4"/>
<line x1="750.7" y1="223.4" x2="758.5" y2="223.4" stroke="#111" stroke-width="1.4"/>
<rect x="747.90" y="229.70" width="13.40" height="109.20" fill="#5e5e5e" stroke="#111" stroke-width="1.4"/>
<line x1="582.3" y1="338.9" x2="582.3" y2="343.7" stroke="#111" stroke-width="1.3"/>
<text x="582.9" y="357.2" font-size="10.8" text-anchor="middle" font-weight="normal" fill="#1c191a" stroke="#1c191a" stroke-width="0.12" >24h</text>
<line x1="635.9" y1="338.9" x2="635.9" y2="343.7" stroke="#111" stroke-width="1.3"/>
<text x="636.5" y="357.2" font-size="10.8" text-anchor="middle" font-weight="normal" fill="#1c191a" stroke="#1c191a" stroke-width="0.12" >48h</text>
<line x1="690.2" y1="338.9" x2="690.2" y2="343.7" stroke="#111" stroke-width="1.3"/>
<text x="690.8000000000001" y="357.2" font-size="10.8" text-anchor="middle" font-weight="normal" fill="#1c191a" stroke="#1c191a" stroke-width="0.12" >72h</text>
<line x1="744.4" y1="338.9" x2="744.4" y2="343.7" stroke="#111" stroke-width="1.3"/>
<text x="745.0" y="357.2" font-size="10.8" text-anchor="middle" font-weight="normal" fill="#1c191a" stroke="#1c191a" stroke-width="0.12" >96h</text>
<rect x="770.6" y="194.4" width="14.8" height="7.4" fill="#fff" stroke="#111" stroke-width="1.4"/>
<rect x="770.6" y="207.2" width="14.8" height="7.6" fill="#5e5e5e" stroke="#111" stroke-width="1.4"/>
<text x="789.2" y="201.2" font-size="10.8" text-anchor="start" font-weight="normal" fill="#1c191a" stroke="#1c191a" stroke-width="0.12" >vector</text>
<text x="789.2" y="215.2" font-size="10.8" text-anchor="start" font-weight="normal" fill="#1c191a" stroke="#1c191a" stroke-width="0.12" >shE2F1</text>
<line x1="368.9" y1="378.35" x2="368.9" y2="509.05" stroke="#111" stroke-width="1.5"/>
<line x1="368.2" y1="508.3" x2="475.4" y2="508.3" stroke="#111" stroke-width="1.6"/>
<line x1="364.5" y1="508.3" x2="368.9" y2="508.3" stroke="#111" stroke-width="1.3"/>
<text x="361.7" y="509.90000000000003" font-size="10.8" text-anchor="end" font-weight="normal" fill="#1c191a" stroke="#1c191a" stroke-width="0.12" >0.0</text>
<line x1="364.5" y1="465.2" x2="368.9" y2="465.2" stroke="#111" stroke-width="1.3"/>
<text x="361.7" y="468.0" font-size="10.8" text-anchor="end" font-weight="normal" fill="#1c191a" stroke="#1c191a" stroke-width="0.12" >0.5</text>
<line x1="364.5" y1="422.1" x2="368.9" y2="422.1" stroke="#111" stroke-width="1.3"/>
<text x="361.7" y="425.70000000000005" font-size="10.8" text-anchor="end" font-weight="normal" fill="#1c191a" stroke="#1c191a" stroke-width="0.12" >1.0</text>
<line x1="364.5" y1="379.0" x2="368.9" y2="379.0" stroke="#111" stroke-width="1.3"/>
<text x="361.7" y="383.0" font-size="10.8" text-anchor="end" font-weight="normal" fill="#1c191a" stroke="#1c191a" stroke-width="0.12" >1.5</text>
<text x="424.3" y="386.7" font-size="10.8" text-anchor="middle" font-weight="normal" fill="#1c191a" stroke="#1c191a" stroke-width="0.12" >PC3</text>
<text transform="translate(343.2,437.6) rotate(-90)" font-size="10.8" text-anchor="middle" fill="#1c191a" stroke="#1c191a" stroke-width="0.12">migration cell</text>
<line x1="395.05" y1="411.1" x2="395.05" y2="416.6" stroke="#111" stroke-width="1.4"/>
<line x1="385.85" y1="411.1" x2="404.25" y2="411.1" stroke="#111" stroke-width="1.4"/>
<rect x="377.50" y="417.30" width="35.10" height="91.00" fill="#fff" stroke="#111" stroke-width="1.4"/>
<line x1="395.05" y1="508.3" x2="395.05" y2="512.9" stroke="#111" stroke-width="1.3"/>
<line x1="448.0" y1="449.8" x2="448.0" y2="453.9" stroke="#111" stroke-width="1.4"/>
<line x1="438.8" y1="449.8" x2="457.2" y2="449.8" stroke="#111" stroke-width="1.4"/>
<rect x="430.70" y="454.60" width="34.60" height="53.70" fill="#5e5e5e" stroke="#111" stroke-width="1.4"/>
<line x1="448.0" y1="508.3" x2="448.0" y2="512.9" stroke="#111" stroke-width="1.3"/>
<text transform="translate(399.05,519.1) rotate(-45)" font-size="10.6" text-anchor="end" fill="#1c191a" stroke="#1c191a" stroke-width="0.12">vector</text>
<text transform="translate(453.0,519.3) rotate(-45)" font-size="10.6" text-anchor="end" fill="#1c191a" stroke="#1c191a" stroke-width="0.12">shE2F1</text>
<text x="448.0" y="447.9" font-size="9.6" text-anchor="middle" font-weight="normal" fill="#111" stroke="#111" stroke-width="0.12" letter-spacing="0.4">**</text>
<line x1="846.1" y1="378.35" x2="846.1" y2="508.75" stroke="#111" stroke-width="1.5"/>
<line x1="845.4" y1="508.0" x2="955.9" y2="508.0" stroke="#111" stroke-width="1.6"/>
<line x1="841.7" y1="508.0" x2="846.1" y2="508.0" stroke="#111" stroke-width="1.3"/>
<text x="838.9" y="511.7" font-size="10.8" text-anchor="end" font-weight="normal" fill="#1c191a" stroke="#1c191a" stroke-width="0.12" >0.0</text>
<line x1="841.7" y1="465.0" x2="846.1" y2="465.0" stroke="#111" stroke-width="1.3"/>
<text x="838.9" y="469.1" font-size="10.8" text-anchor="end" font-weight="normal" fill="#1c191a" stroke="#1c191a" stroke-width="0.12" >0.5</text>
<line x1="841.7" y1="422.0" x2="846.1" y2="422.0" stroke="#111" stroke-width="1.3"/>
<text x="838.9" y="427.2" font-size="10.8" text-anchor="end" font-weight="normal" fill="#1c191a" stroke="#1c191a" stroke-width="0.12" >1.0</text>
<line x1="841.7" y1="379.0" x2="846.1" y2="379.0" stroke="#111" stroke-width="1.3"/>
<text x="838.9" y="385.4" font-size="10.8" text-anchor="end" font-weight="normal" fill="#1c191a" stroke="#1c191a" stroke-width="0.12" >1.5</text>
<text x="902.0" y="386.7" font-size="10.8" text-anchor="middle" font-weight="normal" fill="#1c191a" stroke="#1c191a" stroke-width="0.12" >PC3</text>
<text transform="translate(819.8,441.8) rotate(-90)" font-size="10.8" text-anchor="middle" fill="#1c191a" stroke="#1c191a" stroke-width="0.12">invasion cell</text>
<line x1="873.6" y1="399.6" x2="873.6" y2="408.7" stroke="#111" stroke-width="1.4"/>
<line x1="864.4" y1="399.6" x2="882.8000000000001" y2="399.6" stroke="#111" stroke-width="1.4"/>
<rect x="855.80" y="409.40" width="35.60" height="98.60" fill="#fff" stroke="#111" stroke-width="1.4"/>
<line x1="873.6" y1="508.0" x2="873.6" y2="512.6" stroke="#111" stroke-width="1.3"/>
<line x1="927.95" y1="442.4" x2="927.95" y2="447.6" stroke="#111" stroke-width="1.4"/>
<line x1="918.75" y1="442.4" x2="937.1500000000001" y2="442.4" stroke="#111" stroke-width="1.4"/>
<rect x="910.10" y="448.30" width="35.70" height="59.70" fill="#5e5e5e" stroke="#111" stroke-width="1.4"/>
<line x1="927.95" y1="508.0" x2="927.95" y2="512.6" stroke="#111" stroke-width="1.3"/>
<text transform="translate(879.0,518.8) rotate(-45)" font-size="10.6" text-anchor="end" fill="#1c191a" stroke="#1c191a" stroke-width="0.12">vector</text>
<text transform="translate(933.5500000000001,519.0) rotate(-45)" font-size="10.6" text-anchor="end" fill="#1c191a" stroke="#1c191a" stroke-width="0.12">shE2F1</text>
<text x="927.95" y="441.8" font-size="9.6" text-anchor="middle" font-weight="normal" fill="#111" stroke="#111" stroke-width="0.12" letter-spacing="0.4">**</text>
<line x1="369.7" y1="562.15" x2="369.7" y2="693.85" stroke="#111" stroke-width="1.5"/>
<line x1="369.0" y1="693.1" x2="478.6" y2="693.1" stroke="#111" stroke-width="1.6"/>
<line x1="365.3" y1="693.1" x2="369.7" y2="693.1" stroke="#111" stroke-width="1.3"/>
<text x="362.5" y="694.0" font-size="10.8" text-anchor="end" font-weight="normal" fill="#1c191a" stroke="#1c191a" stroke-width="0.12" >0.0</text>
<line x1="365.3" y1="649.6666666666666" x2="369.7" y2="649.6666666666666" stroke="#111" stroke-width="1.3"/>
<text x="362.5" y="651.8666666666667" font-size="10.8" text-anchor="end" font-weight="normal" fill="#1c191a" stroke="#1c191a" stroke-width="0.12" >0.5</text>
<line x1="365.3" y1="606.2333333333333" x2="369.7" y2="606.2333333333333" stroke="#111" stroke-width="1.3"/>
<text x="362.5" y="609.5333333333333" font-size="10.8" text-anchor="end" font-weight="normal" fill="#1c191a" stroke="#1c191a" stroke-width="0.12" >1.0</text>
<line x1="365.3" y1="562.8" x2="369.7" y2="562.8" stroke="#111" stroke-width="1.3"/>
<text x="362.5" y="566.9" font-size="10.8" text-anchor="end" font-weight="normal" fill="#1c191a" stroke="#1c191a" stroke-width="0.12" >1.5</text>
<text x="430.9" y="568.4" font-size="10.8" text-anchor="middle" font-weight="normal" fill="#1c191a" stroke="#1c191a" stroke-width="0.12" >DU145</text>
<text transform="translate(340.6,622.4) rotate(-90)" font-size="10.8" text-anchor="middle" fill="#1c191a" stroke="#1c191a" stroke-width="0.12">migration cell</text>
<line x1="396.7" y1="581.5" x2="396.7" y2="589.9" stroke="#111" stroke-width="1.4"/>
<line x1="387.5" y1="581.5" x2="405.9" y2="581.5" stroke="#111" stroke-width="1.4"/>
<rect x="378.70" y="590.60" width="36.00" height="102.50" fill="#fff" stroke="#111" stroke-width="1.4"/>
<line x1="396.7" y1="693.1" x2="396.7" y2="697.7" stroke="#111" stroke-width="1.3"/>
<line x1="451.15" y1="633.5" x2="451.15" y2="636.4" stroke="#111" stroke-width="1.4"/>
<line x1="441.95" y1="633.5" x2="460.34999999999997" y2="633.5" stroke="#111" stroke-width="1.4"/>
<rect x="433.10" y="637.10" width="36.10" height="56.00" fill="#5e5e5e" stroke="#111" stroke-width="1.4"/>
<line x1="451.15" y1="693.1" x2="451.15" y2="697.7" stroke="#111" stroke-width="1.3"/>
<text transform="translate(400.7,703.9) rotate(-45)" font-size="10.6" text-anchor="end" fill="#1c191a" stroke="#1c191a" stroke-width="0.12">vector</text>
<text transform="translate(456.15,704.1) rotate(-45)" font-size="10.6" text-anchor="end" fill="#1c191a" stroke="#1c191a" stroke-width="0.12">shE2F1</text>
<text x="451.15" y="633.8" font-size="9.6" text-anchor="middle" font-weight="normal" fill="#111" stroke="#111" stroke-width="0.12" letter-spacing="0.4">**</text>
<line x1="846.1" y1="561.75" x2="846.1" y2="693.35" stroke="#111" stroke-width="1.5"/>
<line x1="845.4" y1="692.6" x2="955.9" y2="692.6" stroke="#111" stroke-width="1.6"/>
<line x1="841.7" y1="692.6" x2="846.1" y2="692.6" stroke="#111" stroke-width="1.3"/>
<text x="838.9" y="697.2" font-size="10.8" text-anchor="end" font-weight="normal" fill="#1c191a" stroke="#1c191a" stroke-width="0.12" >0.0</text>
<line x1="841.7" y1="649.2" x2="846.1" y2="649.2" stroke="#111" stroke-width="1.3"/>
<text x="838.9" y="653.6" font-size="10.8" text-anchor="end" font-weight="normal" fill="#1c191a" stroke="#1c191a" stroke-width="0.12" >0.5</text>
<line x1="841.7" y1="605.8" x2="846.1" y2="605.8" stroke="#111" stroke-width="1.3"/>
<text x="838.9" y="610.8" font-size="10.8" text-anchor="end" font-weight="normal" fill="#1c191a" stroke="#1c191a" stroke-width="0.12" >1.0</text>
<line x1="841.7" y1="562.4" x2="846.1" y2="562.4" stroke="#111" stroke-width="1.3"/>
<text x="838.9" y="568.3" font-size="10.8" text-anchor="end" font-weight="normal" fill="#1c191a" stroke="#1c191a" stroke-width="0.12" >1.5</text>
<text x="902.8" y="573.4" font-size="10.8" text-anchor="middle" font-weight="normal" fill="#1c191a" stroke="#1c191a" stroke-width="0.12" >DU145</text>
<text transform="translate(819.8,631.0) rotate(-90)" font-size="10.8" text-anchor="middle" fill="#1c191a" stroke="#1c191a" stroke-width="0.12">invasion cell</text>
<line x1="873.6" y1="586.2" x2="873.6" y2="594.4" stroke="#111" stroke-width="1.4"/>
<line x1="864.4" y1="586.2" x2="882.8000000000001" y2="586.2" stroke="#111" stroke-width="1.4"/>
<rect x="855.80" y="595.10" width="35.60" height="97.50" fill="#fff" stroke="#111" stroke-width="1.4"/>
<line x1="873.6" y1="692.6" x2="873.6" y2="697.2" stroke="#111" stroke-width="1.3"/>
<line x1="927.95" y1="623.0" x2="927.95" y2="628.0" stroke="#111" stroke-width="1.4"/>
<line x1="918.75" y1="623.0" x2="937.1500000000001" y2="623.0" stroke="#111" stroke-width="1.4"/>
<rect x="910.10" y="628.70" width="35.70" height="63.90" fill="#5e5e5e" stroke="#111" stroke-width="1.4"/>
<line x1="927.95" y1="692.6" x2="927.95" y2="697.2" stroke="#111" stroke-width="1.3"/>
<text transform="translate(879.0,703.4) rotate(-45)" font-size="10.6" text-anchor="end" fill="#1c191a" stroke="#1c191a" stroke-width="0.12">vector</text>
<text transform="translate(933.5500000000001,703.6) rotate(-45)" font-size="10.6" text-anchor="end" fill="#1c191a" stroke="#1c191a" stroke-width="0.12">shE2F1</text>
<text x="927.95" y="624.5" font-size="9.6" text-anchor="middle" font-weight="normal" fill="#111" stroke="#111" stroke-width="0.12" letter-spacing="0.4">**</text>
<text x="29.4" y="417.5" font-size="14" text-anchor="start" font-weight="bold" fill="#000" stroke="#000" stroke-width="0.12" >D</text>
<text x="504.8" y="417.5" font-size="14" text-anchor="start" font-weight="bold" fill="#000" stroke="#000" stroke-width="0.12" >E</text>
<text x="29.6" y="607.6" font-size="14" text-anchor="start" font-weight="bold" fill="#000" stroke="#000" stroke-width="0.12" >F</text>
<text x="504.6" y="607.8" font-size="14" text-anchor="start" font-weight="bold" fill="#000" stroke="#000" stroke-width="0.12" >G</text>
<text x="122.4" y="520.9" font-size="10.7" text-anchor="middle" font-weight="normal" fill="#1c191a" stroke="#1c191a" stroke-width="0.12" >PC3_vector</text>
<text x="245.8" y="520.9" font-size="10.7" text-anchor="middle" font-weight="normal" fill="#1c191a" stroke="#1c191a" stroke-width="0.12" >PC3_shE2F1</text>
<text x="597.6" y="517.3" font-size="10.7" text-anchor="middle" font-weight="normal" fill="#1c191a" stroke="#1c191a" stroke-width="0.12" >PC3_vector</text>
<text x="734.2" y="517.5" font-size="10.7" text-anchor="middle" font-weight="normal" fill="#1c191a" stroke="#1c191a" stroke-width="0.12" >PC3_shE2F1</text>
<text x="127.4" y="705.9" font-size="11.0" text-anchor="middle" font-weight="normal" fill="#1c191a" stroke="#1c191a" stroke-width="0.12" >DU145_vector</text>
<text x="251.2" y="705.9" font-size="11.0" text-anchor="middle" font-weight="normal" fill="#1c191a" stroke="#1c191a" stroke-width="0.12" >DU145_shE2F1</text>
<text x="604.0" y="705.9" font-size="11.0" text-anchor="middle" font-weight="normal" fill="#1c191a" stroke="#1c191a" stroke-width="0.12" >DU145_vector</text>
<text x="740.5" y="705.9" font-size="11.0" text-anchor="middle" font-weight="normal" fill="#1c191a" stroke="#1c191a" stroke-width="0.12" >DU145_shE2F1</text>
<g clip-path="url(#c_d1)"><g filter="url(#f_d1)">
<rect x="46.8" y="396.3" width="152.4" height="120.2" fill="#808080"/>
<ellipse cx="103.8" cy="424.3" rx="5" ry="4" fill="#1a1a1a"/>
<ellipse cx="157.8" cy="419.3" rx="8" ry="5" fill="#1a1a1a"/>
<ellipse cx="106.8" cy="469.3" rx="6" ry="8" fill="#1f1f1f"/>
<ellipse cx="81.8" cy="450.3" rx="4" ry="4" fill="#262626"/>
<ellipse cx="180.8" cy="453.3" rx="7" ry="24" fill="#545454"/>
<ellipse cx="75.8" cy="492.3" rx="16" ry="7" fill="#4c4c4c"/>
<ellipse cx="178.8" cy="472.3" rx="6" ry="6" fill="#333333"/>
<ellipse cx="82.8" cy="438.3" rx="16" ry="12" fill="#adadad"/>
<ellipse cx="138.8" cy="456.3" rx="16" ry="14" fill="#9e9e9e"/>
<ellipse cx="162.8" cy="492.3" rx="14" ry="9" fill="#b2b2b2"/>
<ellipse cx="128.8" cy="416.3" rx="16" ry="6" fill="#a8a8a8"/>
<ellipse cx="66.8" cy="468.3" rx="6" ry="14" fill="#a3a3a3"/>
</g>
<text x="184.4" y="501.1" font-size="8.4" font-weight="bold" text-anchor="end" fill="#cc1f45" opacity="0.72">10X</text>
</g>
<g clip-path="url(#c_d2)"><g filter="url(#f_d2)">
<rect x="185.2" y="396.3" width="151.9" height="120.2" fill="#808080"/>
<ellipse cx="204.2" cy="430.3" rx="8" ry="13" fill="#1a1a1a"/>
<ellipse cx="300.2" cy="449.3" rx="8" ry="7" fill="#0d0d0d"/>
<ellipse cx="221.2" cy="496.3" rx="9" ry="7" fill="#1a1a1a"/>
<ellipse cx="219.2" cy="458.3" rx="6" ry="7" fill="#262626"/>
<ellipse cx="257.2" cy="488.3" rx="7" ry="8" fill="#333333"/>
<ellipse cx="262.2" cy="448.3" rx="8" ry="5" fill="#404040"/>
<ellipse cx="309.2" cy="414.3" rx="6" ry="4" fill="#262626"/>
<ellipse cx="235.2" cy="430.3" rx="5" ry="5" fill="#404040"/>
<ellipse cx="211.2" cy="414.3" rx="10" ry="6" fill="#b2b2b2"/>
<ellipse cx="282.2" cy="420.3" rx="14" ry="8" fill="#b2b2b2"/>
<ellipse cx="315.2" cy="444.3" rx="10" ry="12" fill="#b8b8b8"/>
<ellipse cx="242.2" cy="476.3" rx="12" ry="8" fill="#a8a8a8"/>
<ellipse cx="287.2" cy="496.3" rx="14" ry="7" fill="#adadad"/>
<ellipse cx="309.2" cy="478.3" rx="10" ry="10" fill="#a8a8a8"/>
</g>
<text x="322.3" y="501.1" font-size="8.4" font-weight="bold" text-anchor="end" fill="#cc1f45" opacity="0.72">10X</text>
</g>
<g clip-path="url(#c_e1)"><g filter="url(#f_e1)">
<rect x="522.1" y="398.4" width="152.2" height="120.1" fill="#808080"/>
<ellipse cx="546.1" cy="450.4" rx="10" ry="30" fill="#5c5c5c"/>
<ellipse cx="584.1" cy="430.4" rx="14" ry="8" fill="#666666"/>
<ellipse cx="630.1" cy="432.4" rx="10" ry="6" fill="#5c5c5c"/>
<ellipse cx="574.1" cy="470.4" rx="12" ry="10" fill="#666666"/>
<ellipse cx="646.1" cy="494.4" rx="6" ry="5" fill="#4c4c4c"/>
<ellipse cx="626.1" cy="476.4" rx="20" ry="16" fill="#b8b8b8"/>
<ellipse cx="644.1" cy="450.4" rx="12" ry="10" fill="#a8a8a8"/>
<ellipse cx="558.1" cy="418.4" rx="12" ry="5" fill="#a3a3a3"/>
<ellipse cx="594.1" cy="498.4" rx="18" ry="6" fill="#9e9e9e"/>
</g>
<text x="659.5" y="503.1" font-size="8.4" font-weight="bold" text-anchor="end" fill="#cc1f45" opacity="0.72">10X</text>
</g>
<g clip-path="url(#c_e2)"><g filter="url(#f_e2)">
<rect x="663.9" y="398.4" width="151.9" height="120.1" fill="#808080"/>
<ellipse cx="732.9" cy="475.4" rx="7" ry="10" fill="#1a1a1a"/>
<ellipse cx="767.9" cy="460.4" rx="7" ry="6" fill="#1a1a1a"/>
<ellipse cx="687.9" cy="434.4" rx="7" ry="6" fill="#333333"/>
<ellipse cx="705.9" cy="422.4" rx="6" ry="4" fill="#404040"/>
<ellipse cx="760.9" cy="424.4" rx="6" ry="8" fill="#404040"/>
<ellipse cx="713.9" cy="462.4" rx="5" ry="6" fill="#404040"/>
<ellipse cx="695.9" cy="488.4" rx="8" ry="6" fill="#4c4c4c"/>
<ellipse cx="797.9" cy="450.4" rx="4" ry="8" fill="#4c4c4c"/>
<ellipse cx="721.9" cy="420.4" rx="10" ry="6" fill="#b2b2b2"/>
<ellipse cx="775.9" cy="434.4" rx="12" ry="7" fill="#b2b2b2"/>
<ellipse cx="685.9" cy="460.4" rx="9" ry="10" fill="#b2b2b2"/>
<ellipse cx="705.9" cy="472.4" rx="8" ry="6" fill="#b2b2b2"/>
<ellipse cx="745.9" cy="446.4" rx="10" ry="9" fill="#adadad"/>
<ellipse cx="787.9" cy="480.4" rx="12" ry="14" fill="#b2b2b2"/>
<ellipse cx="755.9" cy="496.4" rx="14" ry="7" fill="#adadad"/>
<ellipse cx="745.9" cy="480.4" rx="6" ry="6" fill="#a8a8a8"/>
</g>
<text x="801.0" y="503.1" font-size="8.4" font-weight="bold" text-anchor="end" fill="#cc1f45" opacity="0.72">10X</text>
</g>
<g clip-path="url(#c_f1)"><g filter="url(#f_f1)">
<rect x="46.8" y="581.1" width="152.4" height="120.7" fill="#808080"/>
<ellipse cx="68.8" cy="665.1" rx="10" ry="18" fill="#3d3d3d"/>
<ellipse cx="98.8" cy="679.1" rx="12" ry="8" fill="#404040"/>
<ellipse cx="70.8" cy="605.1" rx="10" ry="8" fill="#595959"/>
<ellipse cx="158.8" cy="605.1" rx="16" ry="8" fill="#474747"/>
<ellipse cx="178.8" cy="633.1" rx="6" ry="14" fill="#4c4c4c"/>
<ellipse cx="128.8" cy="648.1" rx="5" ry="4" fill="#4c4c4c"/>
<ellipse cx="86.8" cy="631.1" rx="5" ry="4" fill="#4c4c4c"/>
<ellipse cx="108.8" cy="615.1" rx="14" ry="10" fill="#b2b2b2"/>
<ellipse cx="146.8" cy="635.1" rx="18" ry="10" fill="#bdbdbd"/>
<ellipse cx="118.8" cy="663.1" rx="20" ry="10" fill="#b2b2b2"/>
<ellipse cx="168.8" cy="669.1" rx="14" ry="14" fill="#bdbdbd"/>
<ellipse cx="80.8" cy="645.1" rx="10" ry="7" fill="#a8a8a8"/>
</g>
<text x="184.4" y="686.4" font-size="8.4" font-weight="bold" text-anchor="end" fill="#cc1f45" opacity="0.72">10X</text>
</g>
<g clip-path="url(#c_f2)"><g filter="url(#f_f2)">
<rect x="185.2" y="581.1" width="151.9" height="120.7" fill="#808080"/>
<ellipse cx="267.2" cy="643.1" rx="14" ry="10" fill="#5c5c5c"/>
<ellipse cx="309.2" cy="671.1" rx="8" ry="8" fill="#4c4c4c"/>
<ellipse cx="297.2" cy="623.1" rx="8" ry="6" fill="#525252"/>
<ellipse cx="212.2" cy="623.1" rx="6" ry="6" fill="#5c5c5c"/>
<ellipse cx="252.2" cy="609.1" rx="6" ry="5" fill="#5c5c5c"/>
<ellipse cx="217.2" cy="611.1" rx="8" ry="8" fill="#a8a8a8"/>
<ellipse cx="315.2" cy="633.1" rx="8" ry="7" fill="#b8b8b8"/>
<ellipse cx="225.2" cy="655.1" rx="7" ry="9" fill="#a8a8a8"/>
<ellipse cx="289.2" cy="601.1" rx="10" ry="6" fill="#a3a3a3"/>
<ellipse cx="209.2" cy="681.1" rx="8" ry="5" fill="#a8a8a8"/>
<ellipse cx="242.2" cy="633.1" rx="10" ry="6" fill="#999999"/>
<ellipse cx="292.2" cy="675.1" rx="9" ry="6" fill="#999999"/>
<ellipse cx="257.2" cy="669.1" rx="6" ry="6" fill="#999999"/>
</g>
<text x="322.3" y="686.4" font-size="8.4" font-weight="bold" text-anchor="end" fill="#cc1f45" opacity="0.72">10X</text>
</g>
<g clip-path="url(#c_g1)"><g filter="url(#f_g1)">
<rect x="525.9" y="580.4" width="151.9" height="121.1" fill="#808080"/>
<ellipse cx="547.9" cy="600.4" rx="12" ry="8" fill="#474747"/>
<ellipse cx="655.9" cy="654.4" rx="9" ry="10" fill="#242424"/>
<ellipse cx="553.9" cy="676.4" rx="16" ry="8" fill="#333333"/>
<ellipse cx="587.9" cy="606.4" rx="10" ry="6" fill="#4c4c4c"/>
<ellipse cx="623.9" cy="624.4" rx="8" ry="6" fill="#404040"/>
<ellipse cx="573.9" cy="642.4" rx="12" ry="5" fill="#4c4c4c"/>
<ellipse cx="661.9" cy="612.4" rx="4" ry="10" fill="#4c4c4c"/>
<ellipse cx="589.9" cy="676.4" rx="8" ry="6" fill="#4c4c4c"/>
<ellipse cx="605.9" cy="648.4" rx="3" ry="5" fill="#333333"/>
<ellipse cx="621.9" cy="656.4" rx="24" ry="22" fill="#cccccc"/>
<ellipse cx="643.9" cy="626.4" rx="14" ry="12" fill="#bdbdbd"/>
<ellipse cx="607.9" cy="622.4" rx="10" ry="8" fill="#a8a8a8"/>
<ellipse cx="567.9" cy="622.4" rx="10" ry="8" fill="#adadad"/>
<ellipse cx="557.9" cy="654.4" rx="10" ry="6" fill="#a8a8a8"/>
<ellipse cx="571.9" cy="602.4" rx="8" ry="5" fill="#a8a8a8"/>
<ellipse cx="637.9" cy="600.4" rx="12" ry="5" fill="#a8a8a8"/>
</g>
<text x="663.0" y="686.1" font-size="8.4" font-weight="bold" text-anchor="end" fill="#cc1f45" opacity="0.72">10X</text>
</g>
<g clip-path="url(#c_g2)"><g filter="url(#f_g2)">
<rect x="663.9" y="580.4" width="151.9" height="121.1" fill="#808080"/>
<ellipse cx="775.9" cy="612.4" rx="22" ry="10" fill="#4c4c4c"/>
<ellipse cx="700.9" cy="632.4" rx="10" ry="6" fill="#4c4c4c"/>
<ellipse cx="735.9" cy="612.4" rx="8" ry="5" fill="#575757"/>
<ellipse cx="685.9" cy="654.4" rx="6" ry="6" fill="#575757"/>
<ellipse cx="785.9" cy="642.4" rx="8" ry="5" fill="#5c5c5c"/>
<ellipse cx="691.9" cy="678.4" rx="8" ry="4" fill="#616161"/>
<ellipse cx="739.9" cy="668.4" rx="62" ry="16" fill="#8f8f8f"/>
<ellipse cx="745.9" cy="632.4" rx="28" ry="10" fill="#dbdbdb"/>
<ellipse cx="765.9" cy="640.4" rx="13" ry="9" fill="#d6d6d6"/>
<ellipse cx="725.9" cy="628.4" rx="8" ry="7" fill="#cccccc"/>
<ellipse cx="703.9" cy="644.4" rx="12" ry="8" fill="#cccccc"/>
<ellipse cx="691.9" cy="606.4" rx="7" ry="8" fill="#bdbdbd"/>
<ellipse cx="735.9" cy="598.4" rx="7" ry="4" fill="#b2b2b2"/>
<ellipse cx="713.9" cy="618.4" rx="6" ry="4" fill="#b2b2b2"/>
<ellipse cx="713.9" cy="664.4" rx="10" ry="6" fill="#b2b2b2"/>
<ellipse cx="741.9" cy="680.4" rx="5" ry="4" fill="#bdbdbd"/>
<ellipse cx="793.9" cy="606.4" rx="5" ry="4" fill="#b2b2b2"/>
<ellipse cx="775.9" cy="658.4" rx="10" ry="5" fill="#9e9e9e"/>
<ellipse cx="735.9" cy="658.4" rx="12" ry="5" fill="#9e9e9e"/>
<ellipse cx="797.9" cy="636.4" rx="4" ry="8" fill="#adadad"/>
</g>
<text x="801.0" y="686.1" font-size="8.4" font-weight="bold" text-anchor="end" fill="#cc1f45" opacity="0.72">10X</text>
</g>
<text x="22.8" y="764.8" font-size="12" font-weight="bold" fill="#000" textLength="51" lengthAdjust="spacingAndGlyphs">Figure 2</text>
<text x="79.2" y="764.8" font-size="12" fill="#000" textLength="377.4" lengthAdjust="spacingAndGlyphs">Cellular experiments for PC3 and DU145 after knockdown of E2F1.</text>
<text x="22.8" y="781.8" font-size="12" font-weight="bold" fill="#000" textLength="38.6" lengthAdjust="spacingAndGlyphs">Notes:</text>
<text x="68.2" y="781.8" font-size="12" fill="#000" textLength="893" lengthAdjust="spacingAndGlyphs">Apoptosis level of PC3 and DU145 groups (<tspan font-weight="bold">A</tspan>). Proliferation level of PC3 (<tspan font-weight="bold">B</tspan>) and DU145 (<tspan font-weight="bold">C</tspan>). PC3 cell migration (<tspan font-weight="bold">D</tspan>) and invasion (<tspan font-weight="bold">E</tspan>) and DU145 cell migration (<tspan font-weight="bold">F</tspan>)</text>
<text x="22.0" y="799.6" font-size="12" fill="#000" textLength="695" lengthAdjust="spacingAndGlyphs">and invasion (<tspan font-weight="bold">G</tspan>) were detected. Statistical significance was calculated using an independent-samples <tspan font-style="italic">t</tspan>-test; *<tspan font-style="italic">P</tspan>&lt;0.05, **<tspan font-style="italic">P</tspan>&lt;0.01.</text>
</g>
</svg>
</body></html>
